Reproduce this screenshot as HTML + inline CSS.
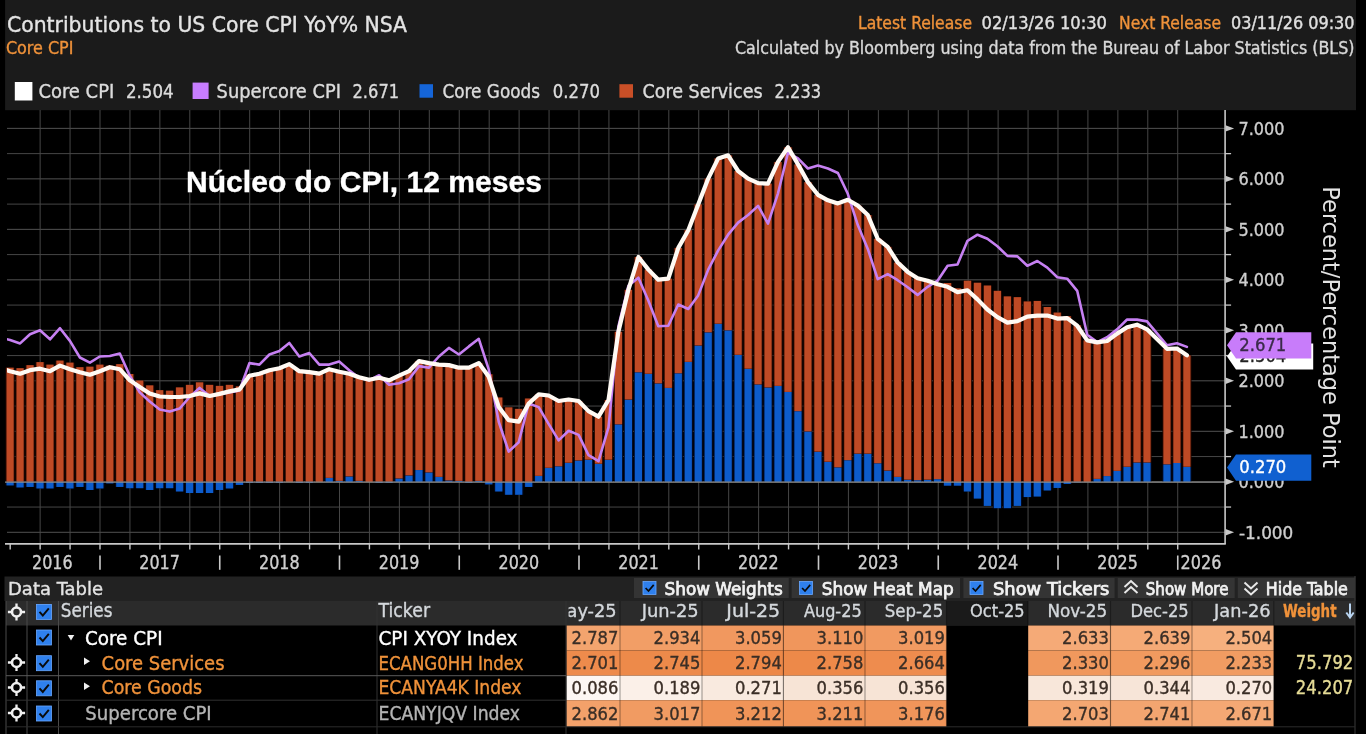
<!DOCTYPE html>
<html lang="en"><head><meta charset="utf-8"><title>Contributions to US Core CPI YoY% NSA</title>
<style>
html,body{margin:0;padding:0;background:#000;width:1366px;height:734px;overflow:hidden}
svg{display:block;position:absolute;left:0;top:0;font-family:"DejaVu Sans Condensed", "DejaVu Sans", "Liberation Sans", sans-serif}
</style></head><body>
<svg width="1366" height="734" viewBox="0 0 1366 734" font-family='"DejaVu Sans Condensed", "DejaVu Sans", "Liberation Sans", sans-serif'>
<g id="header" role="banner" aria-label="Chart title, release info and legend">
<rect x="5.10" y="0.00" width="1350.90" height="110.20" fill="#1b1b1b"/>
<text x="7" y="31.5" font-size="22" fill="#e4e4e4" stroke="#e4e4e4" stroke-width="0.35" textLength="400" lengthAdjust="spacingAndGlyphs">Contributions to US Core CPI YoY% NSA</text>
<text x="5.9" y="54" font-size="16.8" fill="#f0923a" stroke="#f0923a" stroke-width="0.35" textLength="67.5" lengthAdjust="spacingAndGlyphs">Core CPI</text>
<text x="858" y="28.6" font-size="17" fill="#f0923a" stroke="#f0923a" stroke-width="0.35" textLength="114" lengthAdjust="spacingAndGlyphs">Latest Release</text>
<text x="981.5" y="28.6" font-size="17" fill="#e0e0e0" stroke="#e0e0e0" stroke-width="0.35" textLength="125.5" lengthAdjust="spacingAndGlyphs">02/13/26 10:30</text>
<text x="1119" y="28.6" font-size="17" fill="#f0923a" stroke="#f0923a" stroke-width="0.35" textLength="102" lengthAdjust="spacingAndGlyphs">Next Release</text>
<text x="1231" y="28.6" font-size="17" fill="#e0e0e0" stroke="#e0e0e0" stroke-width="0.35" textLength="123.5" lengthAdjust="spacingAndGlyphs">03/11/26 09:30</text>
<text x="735" y="53.6" font-size="17" fill="#d8d8d8" stroke="#d8d8d8" stroke-width="0.35" textLength="619.5" lengthAdjust="spacingAndGlyphs">Calculated by Bloomberg using data from the Bureau of Labor Statistics (BLS)</text>
<rect x="14.80" y="82.00" width="17.60" height="18.50" fill="#ffffff"/>
<text x="38.4" y="98.3" font-size="19" fill="#dcdcdc" stroke="#dcdcdc" stroke-width="0.35" textLength="75.9" lengthAdjust="spacingAndGlyphs">Core CPI</text>
<text x="125.9" y="98.3" font-size="19" fill="#dcdcdc" stroke="#dcdcdc" stroke-width="0.35" textLength="47.8" lengthAdjust="spacingAndGlyphs">2.504</text>
<rect x="192.60" y="82.60" width="16.00" height="16.40" fill="#c77dff"/>
<text x="216.6" y="98.3" font-size="19" fill="#dcdcdc" stroke="#dcdcdc" stroke-width="0.35" textLength="124.3" lengthAdjust="spacingAndGlyphs">Supercore CPI</text>
<text x="352.5" y="98.3" font-size="19" fill="#dcdcdc" stroke="#dcdcdc" stroke-width="0.35" textLength="46.6" lengthAdjust="spacingAndGlyphs">2.671</text>
<rect x="419.50" y="84.20" width="13.50" height="13.50" fill="#1565d8"/>
<text x="442.5" y="98.3" font-size="19" fill="#dcdcdc" stroke="#dcdcdc" stroke-width="0.35" textLength="97.5" lengthAdjust="spacingAndGlyphs">Core Goods</text>
<text x="552.7" y="98.3" font-size="19" fill="#dcdcdc" stroke="#dcdcdc" stroke-width="0.35" textLength="47.2" lengthAdjust="spacingAndGlyphs">0.270</text>
<rect x="619.40" y="84.20" width="13.60" height="13.50" fill="#c94f27"/>
<text x="642.4" y="98.3" font-size="19" fill="#dcdcdc" stroke="#dcdcdc" stroke-width="0.35" textLength="120.2" lengthAdjust="spacingAndGlyphs">Core Services</text>
<text x="774.6" y="98.3" font-size="19" fill="#dcdcdc" stroke="#dcdcdc" stroke-width="0.35" textLength="46.6" lengthAdjust="spacingAndGlyphs">2.233</text>
</g>
<g id="chart" role="img" aria-label="Stacked bar and line chart of core CPI contributions">
<line x1="7.00" y1="532.29" x2="1225.10" y2="532.29" stroke="#525252" stroke-width="1"/>
<line x1="7.00" y1="507.05" x2="1225.10" y2="507.05" stroke="#464646" stroke-width="1"/>
<line x1="7.00" y1="481.80" x2="1225.10" y2="481.80" stroke="#525252" stroke-width="1"/>
<line x1="7.00" y1="456.56" x2="1225.10" y2="456.56" stroke="#464646" stroke-width="1"/>
<line x1="7.00" y1="431.31" x2="1225.10" y2="431.31" stroke="#525252" stroke-width="1"/>
<line x1="7.00" y1="406.06" x2="1225.10" y2="406.06" stroke="#464646" stroke-width="1"/>
<line x1="7.00" y1="380.82" x2="1225.10" y2="380.82" stroke="#525252" stroke-width="1"/>
<line x1="7.00" y1="355.57" x2="1225.10" y2="355.57" stroke="#464646" stroke-width="1"/>
<line x1="7.00" y1="330.33" x2="1225.10" y2="330.33" stroke="#525252" stroke-width="1"/>
<line x1="7.00" y1="305.09" x2="1225.10" y2="305.09" stroke="#464646" stroke-width="1"/>
<line x1="7.00" y1="279.84" x2="1225.10" y2="279.84" stroke="#525252" stroke-width="1"/>
<line x1="7.00" y1="254.59" x2="1225.10" y2="254.59" stroke="#464646" stroke-width="1"/>
<line x1="7.00" y1="229.35" x2="1225.10" y2="229.35" stroke="#525252" stroke-width="1"/>
<line x1="7.00" y1="204.11" x2="1225.10" y2="204.11" stroke="#464646" stroke-width="1"/>
<line x1="7.00" y1="178.86" x2="1225.10" y2="178.86" stroke="#525252" stroke-width="1"/>
<line x1="7.00" y1="153.62" x2="1225.10" y2="153.62" stroke="#464646" stroke-width="1"/>
<line x1="7.00" y1="128.37" x2="1225.10" y2="128.37" stroke="#525252" stroke-width="1"/>
<line x1="40.13" y1="110.00" x2="40.13" y2="543.90" stroke="#464646" stroke-width="1"/>
<line x1="70.06" y1="110.00" x2="70.06" y2="543.90" stroke="#464646" stroke-width="1"/>
<line x1="100.00" y1="110.00" x2="100.00" y2="543.90" stroke="#464646" stroke-width="1"/>
<line x1="129.94" y1="110.00" x2="129.94" y2="543.90" stroke="#464646" stroke-width="1"/>
<line x1="159.87" y1="110.00" x2="159.87" y2="543.90" stroke="#464646" stroke-width="1"/>
<line x1="189.81" y1="110.00" x2="189.81" y2="543.90" stroke="#464646" stroke-width="1"/>
<line x1="219.75" y1="110.00" x2="219.75" y2="543.90" stroke="#464646" stroke-width="1"/>
<line x1="249.69" y1="110.00" x2="249.69" y2="543.90" stroke="#464646" stroke-width="1"/>
<line x1="279.62" y1="110.00" x2="279.62" y2="543.90" stroke="#464646" stroke-width="1"/>
<line x1="309.56" y1="110.00" x2="309.56" y2="543.90" stroke="#464646" stroke-width="1"/>
<line x1="339.50" y1="110.00" x2="339.50" y2="543.90" stroke="#464646" stroke-width="1"/>
<line x1="369.43" y1="110.00" x2="369.43" y2="543.90" stroke="#464646" stroke-width="1"/>
<line x1="399.37" y1="110.00" x2="399.37" y2="543.90" stroke="#464646" stroke-width="1"/>
<line x1="429.31" y1="110.00" x2="429.31" y2="543.90" stroke="#464646" stroke-width="1"/>
<line x1="459.24" y1="110.00" x2="459.24" y2="543.90" stroke="#464646" stroke-width="1"/>
<line x1="489.18" y1="110.00" x2="489.18" y2="543.90" stroke="#464646" stroke-width="1"/>
<line x1="519.12" y1="110.00" x2="519.12" y2="543.90" stroke="#464646" stroke-width="1"/>
<line x1="549.05" y1="110.00" x2="549.05" y2="543.90" stroke="#464646" stroke-width="1"/>
<line x1="578.99" y1="110.00" x2="578.99" y2="543.90" stroke="#464646" stroke-width="1"/>
<line x1="608.93" y1="110.00" x2="608.93" y2="543.90" stroke="#464646" stroke-width="1"/>
<line x1="638.87" y1="110.00" x2="638.87" y2="543.90" stroke="#464646" stroke-width="1"/>
<line x1="668.80" y1="110.00" x2="668.80" y2="543.90" stroke="#464646" stroke-width="1"/>
<line x1="698.74" y1="110.00" x2="698.74" y2="543.90" stroke="#464646" stroke-width="1"/>
<line x1="728.68" y1="110.00" x2="728.68" y2="543.90" stroke="#464646" stroke-width="1"/>
<line x1="758.61" y1="110.00" x2="758.61" y2="543.90" stroke="#464646" stroke-width="1"/>
<line x1="788.55" y1="110.00" x2="788.55" y2="543.90" stroke="#464646" stroke-width="1"/>
<line x1="818.49" y1="110.00" x2="818.49" y2="543.90" stroke="#464646" stroke-width="1"/>
<line x1="848.42" y1="110.00" x2="848.42" y2="543.90" stroke="#464646" stroke-width="1"/>
<line x1="878.36" y1="110.00" x2="878.36" y2="543.90" stroke="#464646" stroke-width="1"/>
<line x1="908.30" y1="110.00" x2="908.30" y2="543.90" stroke="#464646" stroke-width="1"/>
<line x1="938.24" y1="110.00" x2="938.24" y2="543.90" stroke="#464646" stroke-width="1"/>
<line x1="968.17" y1="110.00" x2="968.17" y2="543.90" stroke="#464646" stroke-width="1"/>
<line x1="998.11" y1="110.00" x2="998.11" y2="543.90" stroke="#464646" stroke-width="1"/>
<line x1="1028.05" y1="110.00" x2="1028.05" y2="543.90" stroke="#464646" stroke-width="1"/>
<line x1="1057.98" y1="110.00" x2="1057.98" y2="543.90" stroke="#464646" stroke-width="1"/>
<line x1="1087.92" y1="110.00" x2="1087.92" y2="543.90" stroke="#464646" stroke-width="1"/>
<line x1="1117.86" y1="110.00" x2="1117.86" y2="543.90" stroke="#464646" stroke-width="1"/>
<line x1="1147.79" y1="110.00" x2="1147.79" y2="543.90" stroke="#464646" stroke-width="1"/>
<line x1="1177.73" y1="110.00" x2="1177.73" y2="543.90" stroke="#464646" stroke-width="1"/>
<rect x="5.49" y="367.66" width="9.20" height="114.24" fill="#240700"/>
<rect x="6.49" y="367.66" width="7.20" height="114.24" fill="#bf4a25"/>
<rect x="5.49" y="481.90" width="9.20" height="3.54" fill="#020a24"/>
<rect x="6.49" y="481.90" width="7.20" height="3.54" fill="#0d5ccb"/>
<rect x="15.47" y="368.16" width="9.20" height="113.74" fill="#240700"/>
<rect x="16.47" y="368.16" width="7.20" height="113.74" fill="#bf4a25"/>
<rect x="15.47" y="481.90" width="9.20" height="5.56" fill="#020a24"/>
<rect x="16.47" y="481.90" width="7.20" height="5.56" fill="#0d5ccb"/>
<rect x="25.44" y="365.13" width="9.20" height="116.77" fill="#240700"/>
<rect x="26.44" y="365.13" width="7.20" height="116.77" fill="#bf4a25"/>
<rect x="25.44" y="481.90" width="9.20" height="5.06" fill="#020a24"/>
<rect x="26.44" y="481.90" width="7.20" height="5.06" fill="#0d5ccb"/>
<rect x="35.41" y="362.10" width="9.20" height="119.80" fill="#240700"/>
<rect x="36.41" y="362.10" width="7.20" height="119.80" fill="#bf4a25"/>
<rect x="35.41" y="481.90" width="9.20" height="6.57" fill="#020a24"/>
<rect x="36.41" y="481.90" width="7.20" height="6.57" fill="#0d5ccb"/>
<rect x="45.38" y="364.62" width="9.20" height="117.28" fill="#240700"/>
<rect x="46.38" y="364.62" width="7.20" height="117.28" fill="#bf4a25"/>
<rect x="45.38" y="481.90" width="9.20" height="6.57" fill="#020a24"/>
<rect x="46.38" y="481.90" width="7.20" height="6.57" fill="#0d5ccb"/>
<rect x="55.36" y="360.58" width="9.20" height="121.32" fill="#240700"/>
<rect x="56.36" y="360.58" width="7.20" height="121.32" fill="#bf4a25"/>
<rect x="55.36" y="481.90" width="9.20" height="5.06" fill="#020a24"/>
<rect x="56.36" y="481.90" width="7.20" height="5.06" fill="#0d5ccb"/>
<rect x="65.33" y="362.60" width="9.20" height="119.30" fill="#240700"/>
<rect x="66.33" y="362.60" width="7.20" height="119.30" fill="#bf4a25"/>
<rect x="65.33" y="481.90" width="9.20" height="6.57" fill="#020a24"/>
<rect x="66.33" y="481.90" width="7.20" height="6.57" fill="#0d5ccb"/>
<rect x="75.30" y="367.15" width="9.20" height="114.75" fill="#240700"/>
<rect x="76.30" y="367.15" width="7.20" height="114.75" fill="#bf4a25"/>
<rect x="75.30" y="481.90" width="9.20" height="5.06" fill="#020a24"/>
<rect x="76.30" y="481.90" width="7.20" height="5.06" fill="#0d5ccb"/>
<rect x="85.28" y="366.65" width="9.20" height="115.25" fill="#240700"/>
<rect x="86.28" y="366.65" width="7.20" height="115.25" fill="#bf4a25"/>
<rect x="85.28" y="481.90" width="9.20" height="8.09" fill="#020a24"/>
<rect x="86.28" y="481.90" width="7.20" height="8.09" fill="#0d5ccb"/>
<rect x="95.25" y="364.62" width="9.20" height="117.28" fill="#240700"/>
<rect x="96.25" y="364.62" width="7.20" height="117.28" fill="#bf4a25"/>
<rect x="95.25" y="481.90" width="9.20" height="6.57" fill="#020a24"/>
<rect x="96.25" y="481.90" width="7.20" height="6.57" fill="#0d5ccb"/>
<rect x="105.22" y="365.63" width="9.20" height="116.26" fill="#240700"/>
<rect x="106.22" y="365.63" width="7.20" height="116.26" fill="#bf4a25"/>
<rect x="105.22" y="481.90" width="9.20" height="1.52" fill="#020a24"/>
<rect x="106.22" y="481.90" width="7.20" height="1.52" fill="#0d5ccb"/>
<rect x="115.20" y="364.12" width="9.20" height="117.78" fill="#240700"/>
<rect x="116.20" y="364.12" width="7.20" height="117.78" fill="#bf4a25"/>
<rect x="115.20" y="481.90" width="9.20" height="5.06" fill="#020a24"/>
<rect x="116.20" y="481.90" width="7.20" height="5.06" fill="#0d5ccb"/>
<rect x="125.17" y="373.98" width="9.20" height="107.92" fill="#240700"/>
<rect x="126.17" y="373.98" width="7.20" height="107.92" fill="#bf4a25"/>
<rect x="125.17" y="481.90" width="9.20" height="6.32" fill="#020a24"/>
<rect x="126.17" y="481.90" width="7.20" height="6.32" fill="#0d5ccb"/>
<rect x="135.14" y="380.55" width="9.20" height="101.35" fill="#240700"/>
<rect x="136.14" y="380.55" width="7.20" height="101.35" fill="#bf4a25"/>
<rect x="135.14" y="481.90" width="9.20" height="6.32" fill="#020a24"/>
<rect x="136.14" y="481.90" width="7.20" height="6.32" fill="#0d5ccb"/>
<rect x="145.12" y="385.35" width="9.20" height="96.55" fill="#240700"/>
<rect x="146.12" y="385.35" width="7.20" height="96.55" fill="#bf4a25"/>
<rect x="145.12" y="481.90" width="9.20" height="8.09" fill="#020a24"/>
<rect x="146.12" y="481.90" width="7.20" height="8.09" fill="#0d5ccb"/>
<rect x="155.09" y="390.15" width="9.20" height="91.75" fill="#240700"/>
<rect x="156.09" y="390.15" width="7.20" height="91.75" fill="#bf4a25"/>
<rect x="155.09" y="481.90" width="9.20" height="6.32" fill="#020a24"/>
<rect x="156.09" y="481.90" width="7.20" height="6.32" fill="#0d5ccb"/>
<rect x="165.06" y="390.66" width="9.20" height="91.24" fill="#240700"/>
<rect x="166.06" y="390.66" width="7.20" height="91.24" fill="#bf4a25"/>
<rect x="165.06" y="481.90" width="9.20" height="6.32" fill="#020a24"/>
<rect x="166.06" y="481.90" width="7.20" height="6.32" fill="#0d5ccb"/>
<rect x="175.03" y="387.37" width="9.20" height="94.53" fill="#240700"/>
<rect x="176.03" y="387.37" width="7.20" height="94.53" fill="#bf4a25"/>
<rect x="175.03" y="481.90" width="9.20" height="9.60" fill="#020a24"/>
<rect x="176.03" y="481.90" width="7.20" height="9.60" fill="#0d5ccb"/>
<rect x="185.01" y="384.84" width="9.20" height="97.06" fill="#240700"/>
<rect x="186.01" y="384.84" width="7.20" height="97.06" fill="#bf4a25"/>
<rect x="185.01" y="481.90" width="9.20" height="11.12" fill="#020a24"/>
<rect x="186.01" y="481.90" width="7.20" height="11.12" fill="#0d5ccb"/>
<rect x="194.98" y="382.32" width="9.20" height="99.58" fill="#240700"/>
<rect x="195.98" y="382.32" width="7.20" height="99.58" fill="#bf4a25"/>
<rect x="194.98" y="481.90" width="9.20" height="11.12" fill="#020a24"/>
<rect x="195.98" y="481.90" width="7.20" height="11.12" fill="#0d5ccb"/>
<rect x="204.95" y="384.84" width="9.20" height="97.06" fill="#240700"/>
<rect x="205.95" y="384.84" width="7.20" height="97.06" fill="#bf4a25"/>
<rect x="204.95" y="481.90" width="9.20" height="11.12" fill="#020a24"/>
<rect x="205.95" y="481.90" width="7.20" height="11.12" fill="#0d5ccb"/>
<rect x="214.93" y="385.86" width="9.20" height="96.04" fill="#240700"/>
<rect x="215.93" y="385.86" width="7.20" height="96.04" fill="#bf4a25"/>
<rect x="214.93" y="481.90" width="9.20" height="8.09" fill="#020a24"/>
<rect x="215.93" y="481.90" width="7.20" height="8.09" fill="#0d5ccb"/>
<rect x="224.90" y="384.84" width="9.20" height="97.06" fill="#240700"/>
<rect x="225.90" y="384.84" width="7.20" height="97.06" fill="#bf4a25"/>
<rect x="224.90" y="481.90" width="9.20" height="6.57" fill="#020a24"/>
<rect x="225.90" y="481.90" width="7.20" height="6.57" fill="#0d5ccb"/>
<rect x="234.87" y="386.36" width="9.20" height="95.54" fill="#240700"/>
<rect x="235.87" y="386.36" width="7.20" height="95.54" fill="#bf4a25"/>
<rect x="234.87" y="481.90" width="9.20" height="3.03" fill="#020a24"/>
<rect x="235.87" y="481.90" width="7.20" height="3.03" fill="#0d5ccb"/>
<rect x="244.84" y="374.73" width="9.20" height="107.17" fill="#240700"/>
<rect x="245.84" y="374.73" width="7.20" height="107.17" fill="#bf4a25"/>
<rect x="244.84" y="481.90" width="9.20" height="1.01" fill="#020a24"/>
<rect x="245.84" y="481.90" width="7.20" height="1.01" fill="#0d5ccb"/>
<rect x="254.82" y="372.71" width="9.20" height="109.19" fill="#240700"/>
<rect x="255.82" y="372.71" width="7.20" height="109.19" fill="#bf4a25"/>
<rect x="254.82" y="481.90" width="9.20" height="1.01" fill="#020a24"/>
<rect x="255.82" y="481.90" width="7.20" height="1.01" fill="#0d5ccb"/>
<rect x="264.79" y="369.17" width="9.20" height="112.73" fill="#240700"/>
<rect x="265.79" y="369.17" width="7.20" height="112.73" fill="#bf4a25"/>
<rect x="264.79" y="481.90" width="9.20" height="1.01" fill="#020a24"/>
<rect x="265.79" y="481.90" width="7.20" height="1.01" fill="#0d5ccb"/>
<rect x="274.76" y="367.15" width="9.20" height="114.75" fill="#240700"/>
<rect x="275.76" y="367.15" width="7.20" height="114.75" fill="#bf4a25"/>
<rect x="274.76" y="481.90" width="9.20" height="1.01" fill="#020a24"/>
<rect x="275.76" y="481.90" width="7.20" height="1.01" fill="#0d5ccb"/>
<rect x="284.74" y="364.12" width="9.20" height="117.78" fill="#240700"/>
<rect x="285.74" y="364.12" width="7.20" height="117.78" fill="#bf4a25"/>
<rect x="294.71" y="370.18" width="9.20" height="111.72" fill="#240700"/>
<rect x="295.71" y="370.18" width="7.20" height="111.72" fill="#bf4a25"/>
<rect x="294.71" y="481.90" width="9.20" height="1.01" fill="#020a24"/>
<rect x="295.71" y="481.90" width="7.20" height="1.01" fill="#0d5ccb"/>
<rect x="304.68" y="371.20" width="9.20" height="110.70" fill="#240700"/>
<rect x="305.68" y="371.20" width="7.20" height="110.70" fill="#bf4a25"/>
<rect x="304.68" y="481.90" width="9.20" height="1.01" fill="#020a24"/>
<rect x="305.68" y="481.90" width="7.20" height="1.01" fill="#0d5ccb"/>
<rect x="314.66" y="373.72" width="9.20" height="108.18" fill="#240700"/>
<rect x="315.66" y="373.72" width="7.20" height="108.18" fill="#bf4a25"/>
<rect x="324.63" y="477.86" width="9.20" height="4.04" fill="#020a24"/>
<rect x="325.63" y="477.86" width="7.20" height="4.04" fill="#0d5ccb"/>
<rect x="324.63" y="369.17" width="9.20" height="108.68" fill="#240700"/>
<rect x="325.63" y="369.17" width="7.20" height="108.68" fill="#bf4a25"/>
<rect x="334.60" y="480.89" width="9.20" height="1.01" fill="#020a24"/>
<rect x="335.60" y="480.89" width="7.20" height="1.01" fill="#0d5ccb"/>
<rect x="334.60" y="371.70" width="9.20" height="109.19" fill="#240700"/>
<rect x="335.60" y="371.70" width="7.20" height="109.19" fill="#bf4a25"/>
<rect x="344.57" y="476.34" width="9.20" height="5.56" fill="#020a24"/>
<rect x="345.57" y="476.34" width="7.20" height="5.56" fill="#0d5ccb"/>
<rect x="344.57" y="373.72" width="9.20" height="102.62" fill="#240700"/>
<rect x="345.57" y="373.72" width="7.20" height="102.62" fill="#bf4a25"/>
<rect x="354.55" y="480.89" width="9.20" height="1.01" fill="#020a24"/>
<rect x="355.55" y="480.89" width="7.20" height="1.01" fill="#0d5ccb"/>
<rect x="354.55" y="377.26" width="9.20" height="103.63" fill="#240700"/>
<rect x="355.55" y="377.26" width="7.20" height="103.63" fill="#bf4a25"/>
<rect x="364.52" y="379.79" width="9.20" height="102.11" fill="#240700"/>
<rect x="365.52" y="379.79" width="7.20" height="102.11" fill="#bf4a25"/>
<rect x="374.49" y="376.76" width="9.20" height="105.14" fill="#240700"/>
<rect x="375.49" y="376.76" width="7.20" height="105.14" fill="#bf4a25"/>
<rect x="374.49" y="481.90" width="9.20" height="1.01" fill="#020a24"/>
<rect x="375.49" y="481.90" width="7.20" height="1.01" fill="#0d5ccb"/>
<rect x="384.47" y="379.28" width="9.20" height="102.62" fill="#240700"/>
<rect x="385.47" y="379.28" width="7.20" height="102.62" fill="#bf4a25"/>
<rect x="384.47" y="481.90" width="9.20" height="1.01" fill="#020a24"/>
<rect x="385.47" y="481.90" width="7.20" height="1.01" fill="#0d5ccb"/>
<rect x="394.44" y="478.36" width="9.20" height="3.54" fill="#020a24"/>
<rect x="395.44" y="478.36" width="7.20" height="3.54" fill="#0d5ccb"/>
<rect x="394.44" y="375.75" width="9.20" height="102.62" fill="#240700"/>
<rect x="395.44" y="375.75" width="7.20" height="102.62" fill="#bf4a25"/>
<rect x="404.41" y="475.33" width="9.20" height="6.57" fill="#020a24"/>
<rect x="405.41" y="475.33" width="7.20" height="6.57" fill="#0d5ccb"/>
<rect x="404.41" y="371.20" width="9.20" height="104.13" fill="#240700"/>
<rect x="405.41" y="371.20" width="7.20" height="104.13" fill="#bf4a25"/>
<rect x="414.39" y="470.02" width="9.20" height="11.88" fill="#020a24"/>
<rect x="415.39" y="470.02" width="7.20" height="11.88" fill="#0d5ccb"/>
<rect x="414.39" y="361.09" width="9.20" height="108.94" fill="#240700"/>
<rect x="415.39" y="361.09" width="7.20" height="108.94" fill="#bf4a25"/>
<rect x="424.36" y="472.30" width="9.20" height="9.60" fill="#020a24"/>
<rect x="425.36" y="472.30" width="7.20" height="9.60" fill="#0d5ccb"/>
<rect x="424.36" y="363.11" width="9.20" height="109.19" fill="#240700"/>
<rect x="425.36" y="363.11" width="7.20" height="109.19" fill="#bf4a25"/>
<rect x="434.33" y="476.84" width="9.20" height="5.06" fill="#020a24"/>
<rect x="435.33" y="476.84" width="7.20" height="5.06" fill="#0d5ccb"/>
<rect x="434.33" y="364.62" width="9.20" height="112.22" fill="#240700"/>
<rect x="435.33" y="364.62" width="7.20" height="112.22" fill="#bf4a25"/>
<rect x="444.30" y="480.38" width="9.20" height="1.52" fill="#020a24"/>
<rect x="445.30" y="480.38" width="7.20" height="1.52" fill="#0d5ccb"/>
<rect x="444.30" y="365.13" width="9.20" height="115.25" fill="#240700"/>
<rect x="445.30" y="365.13" width="7.20" height="115.25" fill="#bf4a25"/>
<rect x="454.28" y="480.89" width="9.20" height="1.01" fill="#020a24"/>
<rect x="455.28" y="480.89" width="7.20" height="1.01" fill="#0d5ccb"/>
<rect x="454.28" y="367.66" width="9.20" height="113.23" fill="#240700"/>
<rect x="455.28" y="367.66" width="7.20" height="113.23" fill="#bf4a25"/>
<rect x="464.25" y="366.65" width="9.20" height="115.25" fill="#240700"/>
<rect x="465.25" y="366.65" width="7.20" height="115.25" fill="#bf4a25"/>
<rect x="464.25" y="481.90" width="9.20" height="1.01" fill="#020a24"/>
<rect x="465.25" y="481.90" width="7.20" height="1.01" fill="#0d5ccb"/>
<rect x="474.22" y="480.89" width="9.20" height="1.01" fill="#020a24"/>
<rect x="475.22" y="480.89" width="7.20" height="1.01" fill="#0d5ccb"/>
<rect x="474.22" y="363.11" width="9.20" height="117.78" fill="#240700"/>
<rect x="475.22" y="363.11" width="7.20" height="117.78" fill="#bf4a25"/>
<rect x="484.20" y="374.23" width="9.20" height="107.67" fill="#240700"/>
<rect x="485.20" y="374.23" width="7.20" height="107.67" fill="#bf4a25"/>
<rect x="484.20" y="481.90" width="9.20" height="2.53" fill="#020a24"/>
<rect x="485.20" y="481.90" width="7.20" height="2.53" fill="#0d5ccb"/>
<rect x="494.17" y="397.48" width="9.20" height="84.42" fill="#240700"/>
<rect x="495.17" y="397.48" width="7.20" height="84.42" fill="#bf4a25"/>
<rect x="494.17" y="481.90" width="9.20" height="9.60" fill="#020a24"/>
<rect x="495.17" y="481.90" width="7.20" height="9.60" fill="#0d5ccb"/>
<rect x="504.14" y="407.34" width="9.20" height="74.56" fill="#240700"/>
<rect x="505.14" y="407.34" width="7.20" height="74.56" fill="#bf4a25"/>
<rect x="504.14" y="481.90" width="9.20" height="12.89" fill="#020a24"/>
<rect x="505.14" y="481.90" width="7.20" height="12.89" fill="#0d5ccb"/>
<rect x="514.12" y="408.86" width="9.20" height="73.04" fill="#240700"/>
<rect x="515.12" y="408.86" width="7.20" height="73.04" fill="#bf4a25"/>
<rect x="514.12" y="481.90" width="9.20" height="12.89" fill="#020a24"/>
<rect x="515.12" y="481.90" width="7.20" height="12.89" fill="#0d5ccb"/>
<rect x="524.09" y="398.49" width="9.20" height="83.41" fill="#240700"/>
<rect x="525.09" y="398.49" width="7.20" height="83.41" fill="#bf4a25"/>
<rect x="524.09" y="481.90" width="9.20" height="5.06" fill="#020a24"/>
<rect x="525.09" y="481.90" width="7.20" height="5.06" fill="#0d5ccb"/>
<rect x="534.06" y="475.83" width="9.20" height="6.07" fill="#020a24"/>
<rect x="535.06" y="475.83" width="7.20" height="6.07" fill="#0d5ccb"/>
<rect x="534.06" y="394.45" width="9.20" height="81.39" fill="#240700"/>
<rect x="535.06" y="394.45" width="7.20" height="81.39" fill="#bf4a25"/>
<rect x="544.03" y="467.75" width="9.20" height="14.15" fill="#020a24"/>
<rect x="545.03" y="467.75" width="7.20" height="14.15" fill="#0d5ccb"/>
<rect x="544.03" y="395.46" width="9.20" height="72.29" fill="#240700"/>
<rect x="545.03" y="395.46" width="7.20" height="72.29" fill="#bf4a25"/>
<rect x="554.01" y="466.23" width="9.20" height="15.67" fill="#020a24"/>
<rect x="555.01" y="466.23" width="7.20" height="15.67" fill="#0d5ccb"/>
<rect x="554.01" y="401.02" width="9.20" height="65.21" fill="#240700"/>
<rect x="555.01" y="401.02" width="7.20" height="65.21" fill="#bf4a25"/>
<rect x="563.98" y="462.69" width="9.20" height="19.21" fill="#020a24"/>
<rect x="564.98" y="462.69" width="7.20" height="19.21" fill="#0d5ccb"/>
<rect x="563.98" y="399.50" width="9.20" height="63.19" fill="#240700"/>
<rect x="564.98" y="399.50" width="7.20" height="63.19" fill="#bf4a25"/>
<rect x="573.95" y="460.42" width="9.20" height="21.48" fill="#020a24"/>
<rect x="574.95" y="460.42" width="7.20" height="21.48" fill="#0d5ccb"/>
<rect x="573.95" y="401.02" width="9.20" height="59.40" fill="#240700"/>
<rect x="574.95" y="401.02" width="7.20" height="59.40" fill="#bf4a25"/>
<rect x="583.93" y="459.66" width="9.20" height="22.24" fill="#020a24"/>
<rect x="584.93" y="459.66" width="7.20" height="22.24" fill="#0d5ccb"/>
<rect x="583.93" y="411.13" width="9.20" height="48.53" fill="#240700"/>
<rect x="584.93" y="411.13" width="7.20" height="48.53" fill="#bf4a25"/>
<rect x="593.90" y="463.70" width="9.20" height="18.20" fill="#020a24"/>
<rect x="594.90" y="463.70" width="7.20" height="18.20" fill="#0d5ccb"/>
<rect x="593.90" y="416.69" width="9.20" height="47.01" fill="#240700"/>
<rect x="594.90" y="416.69" width="7.20" height="47.01" fill="#bf4a25"/>
<rect x="603.87" y="459.66" width="9.20" height="22.24" fill="#020a24"/>
<rect x="604.87" y="459.66" width="7.20" height="22.24" fill="#0d5ccb"/>
<rect x="603.87" y="400.01" width="9.20" height="59.65" fill="#240700"/>
<rect x="604.87" y="400.01" width="7.20" height="59.65" fill="#bf4a25"/>
<rect x="613.85" y="424.27" width="9.20" height="57.63" fill="#020a24"/>
<rect x="614.85" y="424.27" width="7.20" height="57.63" fill="#0d5ccb"/>
<rect x="613.85" y="331.77" width="9.20" height="92.51" fill="#240700"/>
<rect x="614.85" y="331.77" width="7.20" height="92.51" fill="#bf4a25"/>
<rect x="623.82" y="399.50" width="9.20" height="82.40" fill="#020a24"/>
<rect x="624.82" y="399.50" width="7.20" height="82.40" fill="#0d5ccb"/>
<rect x="623.82" y="289.81" width="9.20" height="109.69" fill="#240700"/>
<rect x="624.82" y="289.81" width="7.20" height="109.69" fill="#bf4a25"/>
<rect x="633.79" y="372.21" width="9.20" height="109.69" fill="#020a24"/>
<rect x="634.79" y="372.21" width="7.20" height="109.69" fill="#0d5ccb"/>
<rect x="633.79" y="256.95" width="9.20" height="115.25" fill="#240700"/>
<rect x="634.79" y="256.95" width="7.20" height="115.25" fill="#bf4a25"/>
<rect x="643.76" y="373.72" width="9.20" height="108.18" fill="#020a24"/>
<rect x="644.76" y="373.72" width="7.20" height="108.18" fill="#0d5ccb"/>
<rect x="643.76" y="269.59" width="9.20" height="104.13" fill="#240700"/>
<rect x="644.76" y="269.59" width="7.20" height="104.13" fill="#bf4a25"/>
<rect x="653.74" y="383.33" width="9.20" height="98.57" fill="#020a24"/>
<rect x="654.74" y="383.33" width="7.20" height="98.57" fill="#0d5ccb"/>
<rect x="653.74" y="279.70" width="9.20" height="103.63" fill="#240700"/>
<rect x="654.74" y="279.70" width="7.20" height="103.63" fill="#bf4a25"/>
<rect x="663.71" y="387.88" width="9.20" height="94.02" fill="#020a24"/>
<rect x="664.71" y="387.88" width="7.20" height="94.02" fill="#0d5ccb"/>
<rect x="663.71" y="278.69" width="9.20" height="109.19" fill="#240700"/>
<rect x="664.71" y="278.69" width="7.20" height="109.19" fill="#bf4a25"/>
<rect x="673.68" y="373.22" width="9.20" height="108.68" fill="#020a24"/>
<rect x="674.68" y="373.22" width="7.20" height="108.68" fill="#0d5ccb"/>
<rect x="673.68" y="247.85" width="9.20" height="125.36" fill="#240700"/>
<rect x="674.68" y="247.85" width="7.20" height="125.36" fill="#bf4a25"/>
<rect x="683.66" y="361.84" width="9.20" height="120.06" fill="#020a24"/>
<rect x="684.66" y="361.84" width="7.20" height="120.06" fill="#0d5ccb"/>
<rect x="683.66" y="230.16" width="9.20" height="131.68" fill="#240700"/>
<rect x="684.66" y="230.16" width="7.20" height="131.68" fill="#bf4a25"/>
<rect x="693.63" y="345.41" width="9.20" height="136.49" fill="#020a24"/>
<rect x="694.63" y="345.41" width="7.20" height="136.49" fill="#0d5ccb"/>
<rect x="693.63" y="204.38" width="9.20" height="141.03" fill="#240700"/>
<rect x="694.63" y="204.38" width="7.20" height="141.03" fill="#bf4a25"/>
<rect x="703.60" y="332.27" width="9.20" height="149.63" fill="#020a24"/>
<rect x="704.60" y="332.27" width="7.20" height="149.63" fill="#0d5ccb"/>
<rect x="703.60" y="178.60" width="9.20" height="153.67" fill="#240700"/>
<rect x="704.60" y="178.60" width="7.20" height="153.67" fill="#bf4a25"/>
<rect x="713.58" y="323.68" width="9.20" height="158.22" fill="#020a24"/>
<rect x="714.58" y="323.68" width="7.20" height="158.22" fill="#0d5ccb"/>
<rect x="713.58" y="158.38" width="9.20" height="165.30" fill="#240700"/>
<rect x="714.58" y="158.38" width="7.20" height="165.30" fill="#bf4a25"/>
<rect x="723.55" y="330.25" width="9.20" height="151.65" fill="#020a24"/>
<rect x="724.55" y="330.25" width="7.20" height="151.65" fill="#0d5ccb"/>
<rect x="723.55" y="155.35" width="9.20" height="174.90" fill="#240700"/>
<rect x="724.55" y="155.35" width="7.20" height="174.90" fill="#bf4a25"/>
<rect x="733.52" y="354.77" width="9.20" height="127.13" fill="#020a24"/>
<rect x="734.52" y="354.77" width="7.20" height="127.13" fill="#0d5ccb"/>
<rect x="733.52" y="171.02" width="9.20" height="183.75" fill="#240700"/>
<rect x="734.52" y="171.02" width="7.20" height="183.75" fill="#bf4a25"/>
<rect x="743.50" y="368.67" width="9.20" height="113.23" fill="#020a24"/>
<rect x="744.50" y="368.67" width="7.20" height="113.23" fill="#0d5ccb"/>
<rect x="743.50" y="178.60" width="9.20" height="190.07" fill="#240700"/>
<rect x="744.50" y="178.60" width="7.20" height="190.07" fill="#bf4a25"/>
<rect x="753.47" y="384.34" width="9.20" height="97.56" fill="#020a24"/>
<rect x="754.47" y="384.34" width="7.20" height="97.56" fill="#0d5ccb"/>
<rect x="753.47" y="183.15" width="9.20" height="201.19" fill="#240700"/>
<rect x="754.47" y="183.15" width="7.20" height="201.19" fill="#bf4a25"/>
<rect x="763.44" y="387.37" width="9.20" height="94.53" fill="#020a24"/>
<rect x="764.44" y="387.37" width="7.20" height="94.53" fill="#0d5ccb"/>
<rect x="763.44" y="183.65" width="9.20" height="203.72" fill="#240700"/>
<rect x="764.44" y="183.65" width="7.20" height="203.72" fill="#bf4a25"/>
<rect x="773.41" y="385.86" width="9.20" height="96.04" fill="#020a24"/>
<rect x="774.41" y="385.86" width="7.20" height="96.04" fill="#0d5ccb"/>
<rect x="773.41" y="161.92" width="9.20" height="223.94" fill="#240700"/>
<rect x="774.41" y="161.92" width="7.20" height="223.94" fill="#bf4a25"/>
<rect x="783.39" y="391.92" width="9.20" height="89.98" fill="#020a24"/>
<rect x="784.39" y="391.92" width="7.20" height="89.98" fill="#0d5ccb"/>
<rect x="783.39" y="147.26" width="9.20" height="244.66" fill="#240700"/>
<rect x="784.39" y="147.26" width="7.20" height="244.66" fill="#bf4a25"/>
<rect x="793.36" y="411.13" width="9.20" height="70.77" fill="#020a24"/>
<rect x="794.36" y="411.13" width="7.20" height="70.77" fill="#0d5ccb"/>
<rect x="793.36" y="164.45" width="9.20" height="246.68" fill="#240700"/>
<rect x="794.36" y="164.45" width="7.20" height="246.68" fill="#bf4a25"/>
<rect x="803.33" y="431.35" width="9.20" height="50.55" fill="#020a24"/>
<rect x="804.33" y="431.35" width="7.20" height="50.55" fill="#0d5ccb"/>
<rect x="803.33" y="182.14" width="9.20" height="249.21" fill="#240700"/>
<rect x="804.33" y="182.14" width="7.20" height="249.21" fill="#bf4a25"/>
<rect x="813.31" y="451.57" width="9.20" height="30.33" fill="#020a24"/>
<rect x="814.31" y="451.57" width="7.20" height="30.33" fill="#0d5ccb"/>
<rect x="813.31" y="194.78" width="9.20" height="256.79" fill="#240700"/>
<rect x="814.31" y="194.78" width="7.20" height="256.79" fill="#bf4a25"/>
<rect x="823.28" y="461.68" width="9.20" height="20.22" fill="#020a24"/>
<rect x="824.28" y="461.68" width="7.20" height="20.22" fill="#0d5ccb"/>
<rect x="823.28" y="200.34" width="9.20" height="261.34" fill="#240700"/>
<rect x="824.28" y="200.34" width="7.20" height="261.34" fill="#bf4a25"/>
<rect x="833.25" y="467.24" width="9.20" height="14.66" fill="#020a24"/>
<rect x="834.25" y="467.24" width="7.20" height="14.66" fill="#0d5ccb"/>
<rect x="833.25" y="203.37" width="9.20" height="263.87" fill="#240700"/>
<rect x="834.25" y="203.37" width="7.20" height="263.87" fill="#bf4a25"/>
<rect x="843.23" y="460.16" width="9.20" height="21.74" fill="#020a24"/>
<rect x="844.23" y="460.16" width="7.20" height="21.74" fill="#0d5ccb"/>
<rect x="843.23" y="199.83" width="9.20" height="260.33" fill="#240700"/>
<rect x="844.23" y="199.83" width="7.20" height="260.33" fill="#bf4a25"/>
<rect x="853.20" y="453.59" width="9.20" height="28.31" fill="#020a24"/>
<rect x="854.20" y="453.59" width="7.20" height="28.31" fill="#0d5ccb"/>
<rect x="853.20" y="205.64" width="9.20" height="247.95" fill="#240700"/>
<rect x="854.20" y="205.64" width="7.20" height="247.95" fill="#bf4a25"/>
<rect x="863.17" y="453.59" width="9.20" height="28.31" fill="#020a24"/>
<rect x="864.17" y="453.59" width="7.20" height="28.31" fill="#0d5ccb"/>
<rect x="863.17" y="215.00" width="9.20" height="238.60" fill="#240700"/>
<rect x="864.17" y="215.00" width="7.20" height="238.60" fill="#bf4a25"/>
<rect x="873.14" y="463.20" width="9.20" height="18.70" fill="#020a24"/>
<rect x="874.14" y="463.20" width="7.20" height="18.70" fill="#0d5ccb"/>
<rect x="873.14" y="238.75" width="9.20" height="224.44" fill="#240700"/>
<rect x="874.14" y="238.75" width="7.20" height="224.44" fill="#bf4a25"/>
<rect x="883.12" y="470.53" width="9.20" height="11.37" fill="#020a24"/>
<rect x="884.12" y="470.53" width="7.20" height="11.37" fill="#0d5ccb"/>
<rect x="883.12" y="246.84" width="9.20" height="223.68" fill="#240700"/>
<rect x="884.12" y="246.84" width="7.20" height="223.68" fill="#bf4a25"/>
<rect x="893.09" y="476.84" width="9.20" height="5.06" fill="#020a24"/>
<rect x="894.09" y="476.84" width="7.20" height="5.06" fill="#0d5ccb"/>
<rect x="893.09" y="262.51" width="9.20" height="214.33" fill="#240700"/>
<rect x="894.09" y="262.51" width="7.20" height="214.33" fill="#bf4a25"/>
<rect x="903.06" y="479.63" width="9.20" height="2.27" fill="#020a24"/>
<rect x="904.06" y="479.63" width="7.20" height="2.27" fill="#0d5ccb"/>
<rect x="903.06" y="271.86" width="9.20" height="207.76" fill="#240700"/>
<rect x="904.06" y="271.86" width="7.20" height="207.76" fill="#bf4a25"/>
<rect x="913.04" y="480.13" width="9.20" height="1.77" fill="#020a24"/>
<rect x="914.04" y="480.13" width="7.20" height="1.77" fill="#0d5ccb"/>
<rect x="913.04" y="278.18" width="9.20" height="201.95" fill="#240700"/>
<rect x="914.04" y="278.18" width="7.20" height="201.95" fill="#bf4a25"/>
<rect x="923.01" y="479.63" width="9.20" height="2.27" fill="#020a24"/>
<rect x="924.01" y="479.63" width="7.20" height="2.27" fill="#0d5ccb"/>
<rect x="923.01" y="280.71" width="9.20" height="198.91" fill="#240700"/>
<rect x="924.01" y="280.71" width="7.20" height="198.91" fill="#bf4a25"/>
<rect x="932.98" y="479.12" width="9.20" height="2.78" fill="#020a24"/>
<rect x="933.98" y="479.12" width="7.20" height="2.78" fill="#0d5ccb"/>
<rect x="932.98" y="284.25" width="9.20" height="194.87" fill="#240700"/>
<rect x="933.98" y="284.25" width="7.20" height="194.87" fill="#bf4a25"/>
<rect x="942.96" y="282.99" width="9.20" height="198.91" fill="#240700"/>
<rect x="943.96" y="282.99" width="7.20" height="198.91" fill="#bf4a25"/>
<rect x="942.96" y="481.90" width="9.20" height="3.79" fill="#020a24"/>
<rect x="943.96" y="481.90" width="7.20" height="3.79" fill="#0d5ccb"/>
<rect x="952.93" y="288.29" width="9.20" height="193.61" fill="#240700"/>
<rect x="953.93" y="288.29" width="7.20" height="193.61" fill="#bf4a25"/>
<rect x="952.93" y="481.90" width="9.20" height="3.79" fill="#020a24"/>
<rect x="953.93" y="481.90" width="7.20" height="3.79" fill="#0d5ccb"/>
<rect x="962.90" y="280.71" width="9.20" height="201.19" fill="#240700"/>
<rect x="963.90" y="280.71" width="7.20" height="201.19" fill="#bf4a25"/>
<rect x="962.90" y="481.90" width="9.20" height="9.60" fill="#020a24"/>
<rect x="963.90" y="481.90" width="7.20" height="9.60" fill="#0d5ccb"/>
<rect x="972.87" y="282.73" width="9.20" height="199.17" fill="#240700"/>
<rect x="973.87" y="282.73" width="7.20" height="199.17" fill="#bf4a25"/>
<rect x="972.87" y="481.90" width="9.20" height="16.68" fill="#020a24"/>
<rect x="973.87" y="481.90" width="7.20" height="16.68" fill="#0d5ccb"/>
<rect x="982.85" y="285.51" width="9.20" height="196.39" fill="#240700"/>
<rect x="983.85" y="285.51" width="7.20" height="196.39" fill="#bf4a25"/>
<rect x="982.85" y="481.90" width="9.20" height="24.01" fill="#020a24"/>
<rect x="983.85" y="481.90" width="7.20" height="24.01" fill="#0d5ccb"/>
<rect x="992.82" y="290.82" width="9.20" height="191.08" fill="#240700"/>
<rect x="993.82" y="290.82" width="7.20" height="191.08" fill="#bf4a25"/>
<rect x="992.82" y="481.90" width="9.20" height="26.29" fill="#020a24"/>
<rect x="993.82" y="481.90" width="7.20" height="26.29" fill="#0d5ccb"/>
<rect x="1002.79" y="296.38" width="9.20" height="185.52" fill="#240700"/>
<rect x="1003.79" y="296.38" width="7.20" height="185.52" fill="#bf4a25"/>
<rect x="1002.79" y="481.90" width="9.20" height="26.29" fill="#020a24"/>
<rect x="1003.79" y="481.90" width="7.20" height="26.29" fill="#0d5ccb"/>
<rect x="1012.77" y="297.14" width="9.20" height="184.76" fill="#240700"/>
<rect x="1013.77" y="297.14" width="7.20" height="184.76" fill="#bf4a25"/>
<rect x="1012.77" y="481.90" width="9.20" height="24.01" fill="#020a24"/>
<rect x="1013.77" y="481.90" width="7.20" height="24.01" fill="#0d5ccb"/>
<rect x="1022.74" y="301.44" width="9.20" height="180.46" fill="#240700"/>
<rect x="1023.74" y="301.44" width="7.20" height="180.46" fill="#bf4a25"/>
<rect x="1022.74" y="481.90" width="9.20" height="15.17" fill="#020a24"/>
<rect x="1023.74" y="481.90" width="7.20" height="15.17" fill="#0d5ccb"/>
<rect x="1032.71" y="300.93" width="9.20" height="180.97" fill="#240700"/>
<rect x="1033.71" y="300.93" width="7.20" height="180.97" fill="#bf4a25"/>
<rect x="1032.71" y="481.90" width="9.20" height="14.66" fill="#020a24"/>
<rect x="1033.71" y="481.90" width="7.20" height="14.66" fill="#0d5ccb"/>
<rect x="1042.69" y="307.00" width="9.20" height="174.90" fill="#240700"/>
<rect x="1043.69" y="307.00" width="7.20" height="174.90" fill="#bf4a25"/>
<rect x="1042.69" y="481.90" width="9.20" height="8.59" fill="#020a24"/>
<rect x="1043.69" y="481.90" width="7.20" height="8.59" fill="#0d5ccb"/>
<rect x="1052.66" y="312.56" width="9.20" height="169.34" fill="#240700"/>
<rect x="1053.66" y="312.56" width="7.20" height="169.34" fill="#bf4a25"/>
<rect x="1052.66" y="481.90" width="9.20" height="6.07" fill="#020a24"/>
<rect x="1053.66" y="481.90" width="7.20" height="6.07" fill="#0d5ccb"/>
<rect x="1062.63" y="316.10" width="9.20" height="165.80" fill="#240700"/>
<rect x="1063.63" y="316.10" width="7.20" height="165.80" fill="#bf4a25"/>
<rect x="1062.63" y="481.90" width="9.20" height="2.02" fill="#020a24"/>
<rect x="1063.63" y="481.90" width="7.20" height="2.02" fill="#0d5ccb"/>
<rect x="1072.60" y="325.19" width="9.20" height="156.70" fill="#240700"/>
<rect x="1073.60" y="325.19" width="7.20" height="156.70" fill="#bf4a25"/>
<rect x="1072.60" y="481.90" width="9.20" height="0.51" fill="#020a24"/>
<rect x="1073.60" y="481.90" width="7.20" height="0.51" fill="#0d5ccb"/>
<rect x="1082.58" y="340.36" width="9.20" height="141.54" fill="#240700"/>
<rect x="1083.58" y="340.36" width="7.20" height="141.54" fill="#bf4a25"/>
<rect x="1092.55" y="478.87" width="9.20" height="3.03" fill="#020a24"/>
<rect x="1093.55" y="478.87" width="7.20" height="3.03" fill="#0d5ccb"/>
<rect x="1092.55" y="342.38" width="9.20" height="136.48" fill="#240700"/>
<rect x="1093.55" y="342.38" width="7.20" height="136.48" fill="#bf4a25"/>
<rect x="1102.52" y="476.04" width="9.20" height="5.86" fill="#020a24"/>
<rect x="1103.52" y="476.04" width="7.20" height="5.86" fill="#0d5ccb"/>
<rect x="1102.52" y="341.02" width="9.20" height="135.02" fill="#240700"/>
<rect x="1103.52" y="341.02" width="7.20" height="135.02" fill="#bf4a25"/>
<rect x="1112.50" y="470.83" width="9.20" height="11.07" fill="#020a24"/>
<rect x="1113.50" y="470.83" width="7.20" height="11.07" fill="#0d5ccb"/>
<rect x="1112.50" y="333.59" width="9.20" height="137.24" fill="#240700"/>
<rect x="1113.50" y="333.59" width="7.20" height="137.24" fill="#bf4a25"/>
<rect x="1122.47" y="466.68" width="9.20" height="15.22" fill="#020a24"/>
<rect x="1123.47" y="466.68" width="7.20" height="15.22" fill="#0d5ccb"/>
<rect x="1122.47" y="327.27" width="9.20" height="139.42" fill="#240700"/>
<rect x="1123.47" y="327.27" width="7.20" height="139.42" fill="#bf4a25"/>
<rect x="1132.44" y="462.39" width="9.20" height="19.51" fill="#020a24"/>
<rect x="1133.44" y="462.39" width="7.20" height="19.51" fill="#0d5ccb"/>
<rect x="1132.44" y="324.69" width="9.20" height="137.70" fill="#240700"/>
<rect x="1133.44" y="324.69" width="7.20" height="137.70" fill="#bf4a25"/>
<rect x="1142.42" y="462.39" width="9.20" height="19.51" fill="#020a24"/>
<rect x="1143.42" y="462.39" width="7.20" height="19.51" fill="#0d5ccb"/>
<rect x="1142.42" y="329.29" width="9.20" height="133.10" fill="#240700"/>
<rect x="1143.42" y="329.29" width="7.20" height="133.10" fill="#bf4a25"/>
<rect x="1162.36" y="464.26" width="9.20" height="17.64" fill="#020a24"/>
<rect x="1163.36" y="464.26" width="7.20" height="17.64" fill="#0d5ccb"/>
<rect x="1162.36" y="348.80" width="9.20" height="115.46" fill="#240700"/>
<rect x="1163.36" y="348.80" width="7.20" height="115.46" fill="#bf4a25"/>
<rect x="1172.33" y="462.99" width="9.20" height="18.91" fill="#020a24"/>
<rect x="1173.33" y="462.99" width="7.20" height="18.91" fill="#0d5ccb"/>
<rect x="1172.33" y="348.50" width="9.20" height="114.50" fill="#240700"/>
<rect x="1173.33" y="348.50" width="7.20" height="114.50" fill="#bf4a25"/>
<rect x="1182.31" y="466.73" width="9.20" height="15.17" fill="#020a24"/>
<rect x="1183.31" y="466.73" width="7.20" height="15.17" fill="#0d5ccb"/>
<rect x="1182.31" y="355.32" width="9.20" height="111.41" fill="#240700"/>
<rect x="1183.31" y="355.32" width="7.20" height="111.41" fill="#bf4a25"/>
<line x1="5.00" y1="482.10" x2="1225.10" y2="482.10" stroke="#8c8c8c" stroke-width="1.1"/>
<clipPath id="cc"><rect x="7" y="110" width="1218" height="434"/></clipPath>
<path clip-path="url(#cc)" d="M0.1,337.8 L10.1,339.9 L20.1,343.4 L30.0,334.3 L40.0,330.2 L50.0,339.3 L60.0,328.2 L69.9,340.9 L79.9,357.5 L89.9,362.6 L99.8,356.5 L109.8,356.0 L119.8,353.5 L129.8,375.7 L139.7,392.4 L149.7,401.5 L159.7,409.6 L169.7,411.6 L179.6,408.6 L189.6,397.0 L199.6,387.9 L209.6,396.0 L219.5,393.9 L229.5,392.4 L239.5,390.4 L249.4,363.1 L259.4,364.6 L269.4,354.5 L279.4,351.0 L289.3,342.9 L299.3,356.5 L309.3,353.0 L319.3,364.6 L329.2,364.6 L339.2,361.6 L349.2,370.2 L359.1,377.8 L369.1,380.3 L379.1,375.2 L389.1,384.8 L399.0,383.3 L409.0,379.3 L419.0,366.1 L429.0,367.7 L438.9,356.5 L448.9,347.9 L458.9,354.5 L468.9,346.4 L478.8,338.8 L488.8,369.7 L498.8,422.0 L508.7,451.6 L518.7,442.2 L528.7,403.5 L538.7,407.1 L548.6,423.8 L558.6,440.4 L568.6,430.8 L578.6,434.9 L588.5,455.1 L598.5,461.2 L608.5,427.3 L618.4,326.2 L628.4,285.8 L638.4,277.7 L648.4,300.7 L658.3,326.2 L668.3,325.7 L678.3,304.5 L688.3,309.0 L698.2,295.4 L708.2,269.6 L718.2,250.4 L728.1,234.7 L738.1,222.6 L748.1,215.0 L758.1,205.9 L768.0,223.6 L778.0,193.3 L788.0,152.8 L798.0,158.4 L807.9,168.5 L817.9,165.5 L827.9,168.5 L837.9,173.0 L847.8,193.8 L857.8,225.1 L867.8,248.9 L877.7,279.2 L887.7,274.1 L897.7,280.2 L907.7,287.3 L917.6,294.9 L927.6,286.8 L937.6,280.7 L947.6,265.8 L957.5,264.5 L967.5,240.8 L977.5,234.7 L987.4,238.8 L997.4,246.3 L1007.4,255.9 L1017.4,256.4 L1027.3,265.8 L1037.3,261.0 L1047.3,267.6 L1057.3,277.2 L1067.2,278.7 L1077.2,290.8 L1087.2,334.8 L1097.2,342.1 L1107.1,337.2 L1117.1,329.4 L1127.1,319.5 L1137.0,319.6 L1147.0,321.4 L1167.0,345.3 L1176.9,343.3 L1186.9,346.9" fill="none" stroke="#c680f2" stroke-width="2.6" stroke-linejoin="round" stroke-linecap="round"/>
<path clip-path="url(#cc)" d="M0.1,368.2 L10.1,371.2 L20.1,373.7 L30.0,370.2 L40.0,368.7 L50.0,371.2 L60.0,365.6 L69.9,369.2 L79.9,372.2 L89.9,374.7 L99.8,371.2 L109.8,367.2 L119.8,369.2 L129.8,380.3 L139.7,386.9 L149.7,393.4 L159.7,396.5 L169.7,397.0 L179.6,397.0 L189.6,396.0 L199.6,393.4 L209.6,396.0 L219.5,393.9 L229.5,391.4 L239.5,389.4 L249.4,375.7 L259.4,373.7 L269.4,370.2 L279.4,368.2 L289.3,364.1 L299.3,371.2 L309.3,372.2 L319.3,373.7 L329.2,369.2 L339.2,371.7 L349.2,373.7 L359.1,377.3 L369.1,379.8 L379.1,377.8 L389.1,380.3 L399.0,375.7 L409.0,371.2 L419.0,361.1 L429.0,363.1 L438.9,364.6 L448.9,365.1 L458.9,367.7 L468.9,367.7 L478.8,363.1 L488.8,376.8 L498.8,407.1 L508.7,420.2 L518.7,421.7 L528.7,403.5 L538.7,394.4 L548.6,395.5 L558.6,401.0 L568.6,399.5 L578.6,401.0 L588.5,411.1 L598.5,416.7 L608.5,400.0 L618.4,331.8 L628.4,289.8 L638.4,257.0 L648.4,269.6 L658.3,279.7 L668.3,278.7 L678.3,247.9 L688.3,230.2 L698.2,204.4 L708.2,178.6 L718.2,158.4 L728.1,155.3 L738.1,171.0 L748.1,178.6 L758.1,183.1 L768.0,183.7 L778.0,161.9 L788.0,147.3 L798.0,164.4 L807.9,182.1 L817.9,194.8 L827.9,200.3 L837.9,203.4 L847.8,199.8 L857.8,205.6 L867.8,215.0 L877.7,238.8 L887.7,246.8 L897.7,262.5 L907.7,271.9 L917.6,278.2 L927.6,280.7 L937.6,284.2 L947.6,286.8 L957.5,292.1 L967.5,290.3 L977.5,299.4 L987.4,309.5 L997.4,317.1 L1007.4,322.7 L1017.4,321.2 L1027.3,316.6 L1037.3,315.6 L1047.3,315.6 L1057.3,318.6 L1067.2,318.1 L1077.2,325.7 L1087.2,340.4 L1097.2,342.4 L1107.1,341.0 L1117.1,333.6 L1127.1,327.3 L1137.0,324.7 L1147.0,329.3 L1167.0,348.8 L1176.9,348.5 L1186.9,355.3" fill="none" stroke="#fffaf4" stroke-width="4.2" stroke-linejoin="round" stroke-linecap="round"/>
<line x1="5.00" y1="543.90" x2="1225.80" y2="543.90" stroke="#c8c8c8" stroke-width="1.6"/>
<line x1="1225.10" y1="110.00" x2="1225.10" y2="543.90" stroke="#c8c8c8" stroke-width="1.6"/>
<path d="M1225.6,529.1 L1234.1,532.3 L1225.6,535.5Z" fill="#c8c8c8"/>
<text x="1239" y="538.5899999999999" font-size="18.2" fill="#cfcfcf" stroke="#cfcfcf" stroke-width="0.35" textLength="54.3" lengthAdjust="spacingAndGlyphs">-1.000</text>
<line x1="1225.10" y1="507.05" x2="1231.10" y2="507.05" stroke="#c8c8c8" stroke-width="1.3"/>
<path d="M1225.6,478.6 L1234.1,481.8 L1225.6,485.0Z" fill="#c8c8c8"/>
<text x="1238.5" y="488.1" font-size="18.2" fill="#cfcfcf" stroke="#cfcfcf" stroke-width="0.35" textLength="46" lengthAdjust="spacingAndGlyphs">0.000</text>
<line x1="1225.10" y1="456.56" x2="1231.10" y2="456.56" stroke="#c8c8c8" stroke-width="1.3"/>
<path d="M1225.6,428.1 L1234.1,431.3 L1225.6,434.5Z" fill="#c8c8c8"/>
<text x="1238.5" y="437.61" font-size="18.2" fill="#cfcfcf" stroke="#cfcfcf" stroke-width="0.35" textLength="46" lengthAdjust="spacingAndGlyphs">1.000</text>
<line x1="1225.10" y1="406.06" x2="1231.10" y2="406.06" stroke="#c8c8c8" stroke-width="1.3"/>
<path d="M1225.6,377.6 L1234.1,380.8 L1225.6,384.0Z" fill="#c8c8c8"/>
<text x="1238.5" y="387.12" font-size="18.2" fill="#cfcfcf" stroke="#cfcfcf" stroke-width="0.35" textLength="46" lengthAdjust="spacingAndGlyphs">2.000</text>
<line x1="1225.10" y1="355.57" x2="1231.10" y2="355.57" stroke="#c8c8c8" stroke-width="1.3"/>
<path d="M1225.6,327.1 L1234.1,330.3 L1225.6,333.5Z" fill="#c8c8c8"/>
<text x="1238.5" y="336.63000000000005" font-size="18.2" fill="#cfcfcf" stroke="#cfcfcf" stroke-width="0.35" textLength="46" lengthAdjust="spacingAndGlyphs">3.000</text>
<line x1="1225.10" y1="305.09" x2="1231.10" y2="305.09" stroke="#c8c8c8" stroke-width="1.3"/>
<path d="M1225.6,276.6 L1234.1,279.8 L1225.6,283.0Z" fill="#c8c8c8"/>
<text x="1238.5" y="286.14000000000004" font-size="18.2" fill="#cfcfcf" stroke="#cfcfcf" stroke-width="0.35" textLength="46" lengthAdjust="spacingAndGlyphs">4.000</text>
<line x1="1225.10" y1="254.59" x2="1231.10" y2="254.59" stroke="#c8c8c8" stroke-width="1.3"/>
<path d="M1225.6,226.2 L1234.1,229.3 L1225.6,232.5Z" fill="#c8c8c8"/>
<text x="1238.5" y="235.65" font-size="18.2" fill="#cfcfcf" stroke="#cfcfcf" stroke-width="0.35" textLength="46" lengthAdjust="spacingAndGlyphs">5.000</text>
<line x1="1225.10" y1="204.11" x2="1231.10" y2="204.11" stroke="#c8c8c8" stroke-width="1.3"/>
<path d="M1225.6,175.7 L1234.1,178.9 L1225.6,182.1Z" fill="#c8c8c8"/>
<text x="1238.5" y="185.16000000000003" font-size="18.2" fill="#cfcfcf" stroke="#cfcfcf" stroke-width="0.35" textLength="46" lengthAdjust="spacingAndGlyphs">6.000</text>
<line x1="1225.10" y1="153.62" x2="1231.10" y2="153.62" stroke="#c8c8c8" stroke-width="1.3"/>
<path d="M1225.6,125.2 L1234.1,128.4 L1225.6,131.6Z" fill="#c8c8c8"/>
<text x="1238.5" y="134.67000000000002" font-size="18.2" fill="#cfcfcf" stroke="#cfcfcf" stroke-width="0.35" textLength="46" lengthAdjust="spacingAndGlyphs">7.000</text>
<line x1="10.19" y1="543.90" x2="10.19" y2="549.40" stroke="#c8c8c8" stroke-width="1.4"/>
<line x1="40.13" y1="543.90" x2="40.13" y2="549.40" stroke="#c8c8c8" stroke-width="1.4"/>
<line x1="70.06" y1="543.90" x2="70.06" y2="549.40" stroke="#c8c8c8" stroke-width="1.4"/>
<line x1="100.00" y1="543.90" x2="100.00" y2="549.40" stroke="#c8c8c8" stroke-width="1.4"/>
<line x1="129.94" y1="543.90" x2="129.94" y2="549.40" stroke="#c8c8c8" stroke-width="1.4"/>
<line x1="159.87" y1="543.90" x2="159.87" y2="549.40" stroke="#c8c8c8" stroke-width="1.4"/>
<line x1="189.81" y1="543.90" x2="189.81" y2="549.40" stroke="#c8c8c8" stroke-width="1.4"/>
<line x1="219.75" y1="543.90" x2="219.75" y2="549.40" stroke="#c8c8c8" stroke-width="1.4"/>
<line x1="249.69" y1="543.90" x2="249.69" y2="549.40" stroke="#c8c8c8" stroke-width="1.4"/>
<line x1="279.62" y1="543.90" x2="279.62" y2="549.40" stroke="#c8c8c8" stroke-width="1.4"/>
<line x1="309.56" y1="543.90" x2="309.56" y2="549.40" stroke="#c8c8c8" stroke-width="1.4"/>
<line x1="339.50" y1="543.90" x2="339.50" y2="549.40" stroke="#c8c8c8" stroke-width="1.4"/>
<line x1="369.43" y1="543.90" x2="369.43" y2="549.40" stroke="#c8c8c8" stroke-width="1.4"/>
<line x1="399.37" y1="543.90" x2="399.37" y2="549.40" stroke="#c8c8c8" stroke-width="1.4"/>
<line x1="429.31" y1="543.90" x2="429.31" y2="549.40" stroke="#c8c8c8" stroke-width="1.4"/>
<line x1="459.24" y1="543.90" x2="459.24" y2="549.40" stroke="#c8c8c8" stroke-width="1.4"/>
<line x1="489.18" y1="543.90" x2="489.18" y2="549.40" stroke="#c8c8c8" stroke-width="1.4"/>
<line x1="519.12" y1="543.90" x2="519.12" y2="549.40" stroke="#c8c8c8" stroke-width="1.4"/>
<line x1="549.05" y1="543.90" x2="549.05" y2="549.40" stroke="#c8c8c8" stroke-width="1.4"/>
<line x1="578.99" y1="543.90" x2="578.99" y2="549.40" stroke="#c8c8c8" stroke-width="1.4"/>
<line x1="608.93" y1="543.90" x2="608.93" y2="549.40" stroke="#c8c8c8" stroke-width="1.4"/>
<line x1="638.87" y1="543.90" x2="638.87" y2="549.40" stroke="#c8c8c8" stroke-width="1.4"/>
<line x1="668.80" y1="543.90" x2="668.80" y2="549.40" stroke="#c8c8c8" stroke-width="1.4"/>
<line x1="698.74" y1="543.90" x2="698.74" y2="549.40" stroke="#c8c8c8" stroke-width="1.4"/>
<line x1="728.68" y1="543.90" x2="728.68" y2="549.40" stroke="#c8c8c8" stroke-width="1.4"/>
<line x1="758.61" y1="543.90" x2="758.61" y2="549.40" stroke="#c8c8c8" stroke-width="1.4"/>
<line x1="788.55" y1="543.90" x2="788.55" y2="549.40" stroke="#c8c8c8" stroke-width="1.4"/>
<line x1="818.49" y1="543.90" x2="818.49" y2="549.40" stroke="#c8c8c8" stroke-width="1.4"/>
<line x1="848.42" y1="543.90" x2="848.42" y2="549.40" stroke="#c8c8c8" stroke-width="1.4"/>
<line x1="878.36" y1="543.90" x2="878.36" y2="549.40" stroke="#c8c8c8" stroke-width="1.4"/>
<line x1="908.30" y1="543.90" x2="908.30" y2="549.40" stroke="#c8c8c8" stroke-width="1.4"/>
<line x1="938.24" y1="543.90" x2="938.24" y2="549.40" stroke="#c8c8c8" stroke-width="1.4"/>
<line x1="968.17" y1="543.90" x2="968.17" y2="549.40" stroke="#c8c8c8" stroke-width="1.4"/>
<line x1="998.11" y1="543.90" x2="998.11" y2="549.40" stroke="#c8c8c8" stroke-width="1.4"/>
<line x1="1028.05" y1="543.90" x2="1028.05" y2="549.40" stroke="#c8c8c8" stroke-width="1.4"/>
<line x1="1057.98" y1="543.90" x2="1057.98" y2="549.40" stroke="#c8c8c8" stroke-width="1.4"/>
<line x1="1087.92" y1="543.90" x2="1087.92" y2="549.40" stroke="#c8c8c8" stroke-width="1.4"/>
<line x1="1117.86" y1="543.90" x2="1117.86" y2="549.40" stroke="#c8c8c8" stroke-width="1.4"/>
<line x1="1147.79" y1="543.90" x2="1147.79" y2="549.40" stroke="#c8c8c8" stroke-width="1.4"/>
<line x1="1177.73" y1="543.90" x2="1177.73" y2="549.40" stroke="#c8c8c8" stroke-width="1.4"/>
<line x1="100.00" y1="555.50" x2="100.00" y2="569.80" stroke="#c8c8c8" stroke-width="1.6"/>
<line x1="219.75" y1="555.50" x2="219.75" y2="569.80" stroke="#c8c8c8" stroke-width="1.6"/>
<line x1="339.50" y1="555.50" x2="339.50" y2="569.80" stroke="#c8c8c8" stroke-width="1.6"/>
<line x1="459.25" y1="555.50" x2="459.25" y2="569.80" stroke="#c8c8c8" stroke-width="1.6"/>
<line x1="579.00" y1="555.50" x2="579.00" y2="569.80" stroke="#c8c8c8" stroke-width="1.6"/>
<line x1="698.75" y1="555.50" x2="698.75" y2="569.80" stroke="#c8c8c8" stroke-width="1.6"/>
<line x1="818.50" y1="555.50" x2="818.50" y2="569.80" stroke="#c8c8c8" stroke-width="1.6"/>
<line x1="938.25" y1="555.50" x2="938.25" y2="569.80" stroke="#c8c8c8" stroke-width="1.6"/>
<line x1="1058.00" y1="555.50" x2="1058.00" y2="569.80" stroke="#c8c8c8" stroke-width="1.6"/>
<line x1="1177.75" y1="555.50" x2="1177.75" y2="569.80" stroke="#c8c8c8" stroke-width="1.6"/>
<text x="52.3" y="569.3" font-size="19.3" fill="#cfcfcf" stroke="#cfcfcf" stroke-width="0.35" text-anchor="middle" textLength="40.6" lengthAdjust="spacingAndGlyphs">2016</text>
<text x="159.6" y="569.3" font-size="19.3" fill="#cfcfcf" stroke="#cfcfcf" stroke-width="0.35" text-anchor="middle" textLength="40.6" lengthAdjust="spacingAndGlyphs">2017</text>
<text x="279.35" y="569.3" font-size="19.3" fill="#cfcfcf" stroke="#cfcfcf" stroke-width="0.35" text-anchor="middle" textLength="40.6" lengthAdjust="spacingAndGlyphs">2018</text>
<text x="399.1" y="569.3" font-size="19.3" fill="#cfcfcf" stroke="#cfcfcf" stroke-width="0.35" text-anchor="middle" textLength="40.6" lengthAdjust="spacingAndGlyphs">2019</text>
<text x="518.85" y="569.3" font-size="19.3" fill="#cfcfcf" stroke="#cfcfcf" stroke-width="0.35" text-anchor="middle" textLength="40.6" lengthAdjust="spacingAndGlyphs">2020</text>
<text x="638.6" y="569.3" font-size="19.3" fill="#cfcfcf" stroke="#cfcfcf" stroke-width="0.35" text-anchor="middle" textLength="40.6" lengthAdjust="spacingAndGlyphs">2021</text>
<text x="758.35" y="569.3" font-size="19.3" fill="#cfcfcf" stroke="#cfcfcf" stroke-width="0.35" text-anchor="middle" textLength="40.6" lengthAdjust="spacingAndGlyphs">2022</text>
<text x="878.1" y="569.3" font-size="19.3" fill="#cfcfcf" stroke="#cfcfcf" stroke-width="0.35" text-anchor="middle" textLength="40.6" lengthAdjust="spacingAndGlyphs">2023</text>
<text x="997.85" y="569.3" font-size="19.3" fill="#cfcfcf" stroke="#cfcfcf" stroke-width="0.35" text-anchor="middle" textLength="40.6" lengthAdjust="spacingAndGlyphs">2024</text>
<text x="1117.6" y="569.3" font-size="19.3" fill="#cfcfcf" stroke="#cfcfcf" stroke-width="0.35" text-anchor="middle" textLength="40.6" lengthAdjust="spacingAndGlyphs">2025</text>
<text x="1180.6" y="569.3" font-size="19.3" fill="#cfcfcf" stroke="#cfcfcf" stroke-width="0.35" textLength="40.8" lengthAdjust="spacingAndGlyphs">2026</text>
<text transform="translate(1322.5,186.3) rotate(90)" font-size="22.6" font-family="DejaVu Sans, Liberation Sans, sans-serif" fill="#e4e4e4" textLength="281.5" lengthAdjust="spacingAndGlyphs">Percent/Percentage Point</text>
<text x="186" y="191.7" font-size="30" fill="#ffffff" stroke="#ffffff" stroke-width="0.35" textLength="356" lengthAdjust="spacingAndGlyphs" font-weight="bold" font-family="Liberation Sans, sans-serif">Núcleo do CPI, 12 meses</text>
<path d="M1227,356.5 L1236,343.4 L1313.2,343.4 L1313.2,369.6 L1236,369.6Z" fill="#ffffff"/>
<text x="1239.3" y="362.1" font-size="18.2" fill="#222" stroke="#222" stroke-width="0.35" textLength="47" lengthAdjust="spacingAndGlyphs">2.504</text>
<path d="M1227,345.3 L1236,332.2 L1311.3,332.2 L1311.3,358.4 L1236,358.4Z" fill="#c87cfa"/>
<text x="1239.3" y="350.90000000000003" font-size="18.2" fill="#3a2a4a" stroke="#3a2a4a" stroke-width="0.35" textLength="47" lengthAdjust="spacingAndGlyphs">2.671</text>
<path d="M1227,467.6 L1236,454.5 L1311.3,454.5 L1311.3,480.7 L1236,480.7Z" fill="#1060d0"/>
<text x="1239.3" y="473.20000000000005" font-size="18.2" fill="#ffffff" stroke="#ffffff" stroke-width="0.35" textLength="47" lengthAdjust="spacingAndGlyphs">0.270</text>
</g>
<g id="data-table" role="table" aria-label="Data Table">
<rect x="4.50" y="576.50" width="1351.00" height="24.50" fill="#222222"/>
<text x="8" y="594.5" font-size="18.5" fill="#e4e4e4" stroke="#e4e4e4" stroke-width="0.35" textLength="95" lengthAdjust="spacingAndGlyphs">Data Table</text>
<rect x="634.00" y="578.00" width="154.80" height="20.00" fill="#343434"/>
<rect x="643.00" y="581.50" width="13.00" height="13.00" fill="#2f80ed" stroke="#6aa8ff" stroke-width="0.8"/>
<path d="M645.6,588.0 L648.5,591.1 L653.7,584.9" fill="none" stroke="#0a0a0a" stroke-width="1.69"/>
<text x="664.5" y="594.5" font-size="18.3" fill="#f2f2f2" textLength="118.2" lengthAdjust="spacingAndGlyphs" stroke="#f2f2f2" stroke-width="0.75">Show Weights</text>
<rect x="791.60" y="578.00" width="168.40" height="20.00" fill="#343434"/>
<rect x="799.50" y="581.50" width="13.00" height="13.00" fill="#2f80ed" stroke="#6aa8ff" stroke-width="0.8"/>
<path d="M802.1,588.0 L805.0,591.1 L810.2,584.9" fill="none" stroke="#0a0a0a" stroke-width="1.69"/>
<text x="821.7" y="594.5" font-size="18.3" fill="#f2f2f2" textLength="132.1" lengthAdjust="spacingAndGlyphs" stroke="#f2f2f2" stroke-width="0.75">Show Heat Map</text>
<rect x="963.40" y="578.00" width="151.20" height="20.00" fill="#343434"/>
<rect x="970.00" y="581.50" width="13.00" height="13.00" fill="#2f80ed" stroke="#6aa8ff" stroke-width="0.8"/>
<path d="M972.6,588.0 L975.5,591.1 L980.7,584.9" fill="none" stroke="#0a0a0a" stroke-width="1.69"/>
<text x="993" y="594.5" font-size="18.3" fill="#f2f2f2" textLength="116.3" lengthAdjust="spacingAndGlyphs" stroke="#f2f2f2" stroke-width="0.75">Show Tickers</text>
<rect x="1117.70" y="578.00" width="117.00" height="20.00" fill="#343434"/>
<path d="M1124.5,587 l6.5,-6 l6.5,6" fill="none" stroke="#e8e8e8" stroke-width="2"/>
<path d="M1124.5,593 l6.5,-6 l6.5,6" fill="none" stroke="#e8e8e8" stroke-width="2"/>
<text x="1145.8" y="594.5" font-size="18.3" fill="#f2f2f2" textLength="82.6" lengthAdjust="spacingAndGlyphs" stroke="#f2f2f2" stroke-width="0.75">Show More</text>
<rect x="1237.80" y="578.00" width="116.90" height="20.00" fill="#343434"/>
<path d="M1244.5,582.5 l6.5,6 l6.5,-6" fill="none" stroke="#e8e8e8" stroke-width="2"/>
<path d="M1244.5,588.5 l6.5,6 l6.5,-6" fill="none" stroke="#e8e8e8" stroke-width="2"/>
<text x="1265.8" y="594.5" font-size="18.3" fill="#f2f2f2" textLength="82.1" lengthAdjust="spacingAndGlyphs" stroke="#f2f2f2" stroke-width="0.75">Hide Table</text>
<rect x="6.00" y="601.00" width="1349.00" height="24.50" fill="#2b2b2b"/>
<rect x="946.50" y="601.00" width="81.50" height="24.50" fill="#1a1a1a"/>
<clipPath id="c0"><rect x="568.6" y="600" width="60" height="30"/></clipPath>
<text x="616.7" y="617.2" font-size="18" fill="#d4d8dc" stroke="#d4d8dc" stroke-width="0.35" text-anchor="end" textLength="65.5" lengthAdjust="spacingAndGlyphs" clip-path="url(#c0)">May-25</text>
<text x="698.7" y="617.2" font-size="18" fill="#d4d8dc" stroke="#d4d8dc" stroke-width="0.35" text-anchor="end" textLength="57" lengthAdjust="spacingAndGlyphs">Jun-25</text>
<text x="780.1" y="617.2" font-size="18" fill="#d4d8dc" stroke="#d4d8dc" stroke-width="0.35" text-anchor="end" textLength="53.8" lengthAdjust="spacingAndGlyphs">Jul-25</text>
<text x="861.7" y="617.2" font-size="18" fill="#d4d8dc" stroke="#d4d8dc" stroke-width="0.35" text-anchor="end" textLength="57.8" lengthAdjust="spacingAndGlyphs">Aug-25</text>
<text x="943.2" y="617.2" font-size="18" fill="#d4d8dc" stroke="#d4d8dc" stroke-width="0.35" text-anchor="end" textLength="58.4" lengthAdjust="spacingAndGlyphs">Sep-25</text>
<text x="1024.7" y="617.2" font-size="18" fill="#d4d8dc" stroke="#d4d8dc" stroke-width="0.35" text-anchor="end" textLength="54.6" lengthAdjust="spacingAndGlyphs">Oct-25</text>
<text x="1107.2" y="617.2" font-size="18" fill="#d4d8dc" stroke="#d4d8dc" stroke-width="0.35" text-anchor="end" textLength="59.8" lengthAdjust="spacingAndGlyphs">Nov-25</text>
<text x="1188.7" y="617.2" font-size="18" fill="#d4d8dc" stroke="#d4d8dc" stroke-width="0.35" text-anchor="end" textLength="58.3" lengthAdjust="spacingAndGlyphs">Dec-25</text>
<text x="1270.5" y="617.2" font-size="18" fill="#d4d8dc" stroke="#d4d8dc" stroke-width="0.35" text-anchor="end" textLength="56.4" lengthAdjust="spacingAndGlyphs">Jan-26</text>
<text x="1283" y="617.2" font-size="18.5" fill="#f0923a" stroke="#f0923a" stroke-width="0.35" textLength="53.6" lengthAdjust="spacingAndGlyphs" font-weight="bold">Weight</text>
<path d="M1350,603.5 v13 M1346.3,612.5 l3.7,5 l3.7,-5" fill="none" stroke="#b8d4f0" stroke-width="2"/>
<text x="60.8" y="617.4" font-size="19" fill="#d4d8dc" stroke="#d4d8dc" stroke-width="0.35" textLength="51.6" lengthAdjust="spacingAndGlyphs">Series</text>
<text x="378.5" y="617.4" font-size="19" fill="#d4d8dc" stroke="#d4d8dc" stroke-width="0.35" textLength="51.5" lengthAdjust="spacingAndGlyphs">Ticker</text>
<clipPath id="c1"><rect x="566.4" y="620" width="60" height="114"/></clipPath>
<rect x="566.40" y="625.50" width="53.60" height="25.00" fill="#f3a46e"/>
<text x="618.4" y="644.3" font-size="18.4" fill="#3a2e26" stroke="#3a2e26" stroke-width="0.35" text-anchor="end" textLength="46.8" lengthAdjust="spacingAndGlyphs" clip-path="url(#c1)">2.787</text>
<rect x="620.00" y="625.50" width="82.00" height="25.00" fill="#f29e66"/>
<text x="700.4" y="644.3" font-size="18.4" fill="#3a2e26" stroke="#3a2e26" stroke-width="0.35" text-anchor="end" textLength="46.8" lengthAdjust="spacingAndGlyphs">2.934</text>
<rect x="702.00" y="625.50" width="81.40" height="25.00" fill="#f1985f"/>
<text x="781.8" y="644.3" font-size="18.4" fill="#3a2e26" stroke="#3a2e26" stroke-width="0.35" text-anchor="end" textLength="46.8" lengthAdjust="spacingAndGlyphs">3.059</text>
<rect x="783.40" y="625.50" width="81.60" height="25.00" fill="#f0965c"/>
<text x="863.4" y="644.3" font-size="18.4" fill="#3a2e26" stroke="#3a2e26" stroke-width="0.35" text-anchor="end" textLength="46.8" lengthAdjust="spacingAndGlyphs">3.110</text>
<rect x="865.00" y="625.50" width="81.50" height="25.00" fill="#f19a61"/>
<text x="944.9" y="644.3" font-size="18.4" fill="#3a2e26" stroke="#3a2e26" stroke-width="0.35" text-anchor="end" textLength="46.8" lengthAdjust="spacingAndGlyphs">3.019</text>
<rect x="1028.00" y="625.50" width="82.50" height="25.00" fill="#f5aa77"/>
<text x="1108.9" y="644.3" font-size="18.4" fill="#3a2e26" stroke="#3a2e26" stroke-width="0.35" text-anchor="end" textLength="46.8" lengthAdjust="spacingAndGlyphs">2.633</text>
<rect x="1110.50" y="625.50" width="81.50" height="25.00" fill="#f5aa76"/>
<text x="1190.4" y="644.3" font-size="18.4" fill="#3a2e26" stroke="#3a2e26" stroke-width="0.35" text-anchor="end" textLength="46.8" lengthAdjust="spacingAndGlyphs">2.639</text>
<rect x="1192.00" y="625.50" width="81.80" height="25.00" fill="#f6b07e"/>
<text x="1272.2" y="644.3" font-size="18.4" fill="#3a2e26" stroke="#3a2e26" stroke-width="0.35" text-anchor="end" textLength="46.8" lengthAdjust="spacingAndGlyphs">2.504</text>
<rect x="566.40" y="650.50" width="53.60" height="25.20" fill="#ee8b4c"/>
<text x="618.4" y="669.4" font-size="18.4" fill="#3a2e26" stroke="#3a2e26" stroke-width="0.35" text-anchor="end" textLength="46.8" lengthAdjust="spacingAndGlyphs" clip-path="url(#c1)">2.701</text>
<rect x="620.00" y="650.50" width="82.00" height="25.20" fill="#ed8a4a"/>
<text x="700.4" y="669.4" font-size="18.4" fill="#3a2e26" stroke="#3a2e26" stroke-width="0.35" text-anchor="end" textLength="46.8" lengthAdjust="spacingAndGlyphs">2.745</text>
<rect x="702.00" y="650.50" width="81.40" height="25.20" fill="#ed8848"/>
<text x="781.8" y="669.4" font-size="18.4" fill="#3a2e26" stroke="#3a2e26" stroke-width="0.35" text-anchor="end" textLength="46.8" lengthAdjust="spacingAndGlyphs">2.794</text>
<rect x="783.40" y="650.50" width="81.60" height="25.20" fill="#ed8949"/>
<text x="863.4" y="669.4" font-size="18.4" fill="#3a2e26" stroke="#3a2e26" stroke-width="0.35" text-anchor="end" textLength="46.8" lengthAdjust="spacingAndGlyphs">2.758</text>
<rect x="865.00" y="650.50" width="81.50" height="25.20" fill="#ee8c4e"/>
<text x="944.9" y="669.4" font-size="18.4" fill="#3a2e26" stroke="#3a2e26" stroke-width="0.35" text-anchor="end" textLength="46.8" lengthAdjust="spacingAndGlyphs">2.664</text>
<rect x="1028.00" y="650.50" width="82.50" height="25.20" fill="#f0985d"/>
<text x="1108.9" y="669.4" font-size="18.4" fill="#3a2e26" stroke="#3a2e26" stroke-width="0.35" text-anchor="end" textLength="46.8" lengthAdjust="spacingAndGlyphs">2.330</text>
<rect x="1110.50" y="650.50" width="81.50" height="25.20" fill="#f19a5f"/>
<text x="1190.4" y="669.4" font-size="18.4" fill="#3a2e26" stroke="#3a2e26" stroke-width="0.35" text-anchor="end" textLength="46.8" lengthAdjust="spacingAndGlyphs">2.296</text>
<rect x="1192.00" y="650.50" width="81.80" height="25.20" fill="#f19c62"/>
<text x="1272.2" y="669.4" font-size="18.4" fill="#3a2e26" stroke="#3a2e26" stroke-width="0.35" text-anchor="end" textLength="46.8" lengthAdjust="spacingAndGlyphs">2.233</text>
<rect x="566.40" y="675.70" width="53.60" height="24.50" fill="#fdf7f3"/>
<text x="618.4" y="694.2" font-size="18.4" fill="#3a2e26" stroke="#3a2e26" stroke-width="0.35" text-anchor="end" textLength="46.8" lengthAdjust="spacingAndGlyphs" clip-path="url(#c1)">0.086</text>
<rect x="620.00" y="675.70" width="82.00" height="24.50" fill="#fbf0e8"/>
<text x="700.4" y="694.2" font-size="18.4" fill="#3a2e26" stroke="#3a2e26" stroke-width="0.35" text-anchor="end" textLength="46.8" lengthAdjust="spacingAndGlyphs">0.189</text>
<rect x="702.00" y="675.70" width="81.40" height="24.50" fill="#f9eadf"/>
<text x="781.8" y="694.2" font-size="18.4" fill="#3a2e26" stroke="#3a2e26" stroke-width="0.35" text-anchor="end" textLength="46.8" lengthAdjust="spacingAndGlyphs">0.271</text>
<rect x="783.40" y="675.70" width="81.60" height="24.50" fill="#f7e4d6"/>
<text x="863.4" y="694.2" font-size="18.4" fill="#3a2e26" stroke="#3a2e26" stroke-width="0.35" text-anchor="end" textLength="46.8" lengthAdjust="spacingAndGlyphs">0.356</text>
<rect x="865.00" y="675.70" width="81.50" height="24.50" fill="#f7e4d6"/>
<text x="944.9" y="694.2" font-size="18.4" fill="#3a2e26" stroke="#3a2e26" stroke-width="0.35" text-anchor="end" textLength="46.8" lengthAdjust="spacingAndGlyphs">0.356</text>
<rect x="1028.00" y="675.70" width="82.50" height="24.50" fill="#f8e7da"/>
<text x="1108.9" y="694.2" font-size="18.4" fill="#3a2e26" stroke="#3a2e26" stroke-width="0.35" text-anchor="end" textLength="46.8" lengthAdjust="spacingAndGlyphs">0.319</text>
<rect x="1110.50" y="675.70" width="81.50" height="24.50" fill="#f7e5d8"/>
<text x="1190.4" y="694.2" font-size="18.4" fill="#3a2e26" stroke="#3a2e26" stroke-width="0.35" text-anchor="end" textLength="46.8" lengthAdjust="spacingAndGlyphs">0.344</text>
<rect x="1192.00" y="675.70" width="81.80" height="24.50" fill="#f9eae0"/>
<text x="1272.2" y="694.2" font-size="18.4" fill="#3a2e26" stroke="#3a2e26" stroke-width="0.35" text-anchor="end" textLength="46.8" lengthAdjust="spacingAndGlyphs">0.270</text>
<rect x="566.40" y="700.20" width="53.60" height="26.60" fill="#f3a16a"/>
<text x="618.4" y="719.6" font-size="18.4" fill="#3a2e26" stroke="#3a2e26" stroke-width="0.35" text-anchor="end" textLength="46.8" lengthAdjust="spacingAndGlyphs" clip-path="url(#c1)">2.862</text>
<rect x="620.00" y="700.20" width="82.00" height="26.60" fill="#f19b62"/>
<text x="700.4" y="719.6" font-size="18.4" fill="#3a2e26" stroke="#3a2e26" stroke-width="0.35" text-anchor="end" textLength="46.8" lengthAdjust="spacingAndGlyphs">3.017</text>
<rect x="702.00" y="700.20" width="81.40" height="26.60" fill="#f09458"/>
<text x="781.8" y="719.6" font-size="18.4" fill="#3a2e26" stroke="#3a2e26" stroke-width="0.35" text-anchor="end" textLength="46.8" lengthAdjust="spacingAndGlyphs">3.212</text>
<rect x="783.40" y="700.20" width="81.60" height="26.60" fill="#f09458"/>
<text x="863.4" y="719.6" font-size="18.4" fill="#3a2e26" stroke="#3a2e26" stroke-width="0.35" text-anchor="end" textLength="46.8" lengthAdjust="spacingAndGlyphs">3.211</text>
<rect x="865.00" y="700.20" width="81.50" height="26.60" fill="#f0955a"/>
<text x="944.9" y="719.6" font-size="18.4" fill="#3a2e26" stroke="#3a2e26" stroke-width="0.35" text-anchor="end" textLength="46.8" lengthAdjust="spacingAndGlyphs">3.176</text>
<rect x="1028.00" y="700.20" width="82.50" height="26.60" fill="#f4a772"/>
<text x="1108.9" y="719.6" font-size="18.4" fill="#3a2e26" stroke="#3a2e26" stroke-width="0.35" text-anchor="end" textLength="46.8" lengthAdjust="spacingAndGlyphs">2.703</text>
<rect x="1110.50" y="700.20" width="81.50" height="26.60" fill="#f3a570"/>
<text x="1190.4" y="719.6" font-size="18.4" fill="#3a2e26" stroke="#3a2e26" stroke-width="0.35" text-anchor="end" textLength="46.8" lengthAdjust="spacingAndGlyphs">2.741</text>
<rect x="1192.00" y="700.20" width="81.80" height="26.60" fill="#f4a874"/>
<text x="1272.2" y="719.6" font-size="18.4" fill="#3a2e26" stroke="#3a2e26" stroke-width="0.35" text-anchor="end" textLength="46.8" lengthAdjust="spacingAndGlyphs">2.671</text>
<line x1="620.00" y1="601.00" x2="620.00" y2="726.80" stroke="#00000055" stroke-width="1.2"/>
<line x1="702.00" y1="601.00" x2="702.00" y2="726.80" stroke="#00000055" stroke-width="1.2"/>
<line x1="783.40" y1="601.00" x2="783.40" y2="726.80" stroke="#00000055" stroke-width="1.2"/>
<line x1="865.00" y1="601.00" x2="865.00" y2="726.80" stroke="#00000055" stroke-width="1.2"/>
<line x1="946.50" y1="601.00" x2="946.50" y2="726.80" stroke="#00000055" stroke-width="1.2"/>
<line x1="1028.00" y1="601.00" x2="1028.00" y2="726.80" stroke="#00000055" stroke-width="1.2"/>
<line x1="1110.50" y1="601.00" x2="1110.50" y2="726.80" stroke="#00000055" stroke-width="1.2"/>
<line x1="1192.00" y1="601.00" x2="1192.00" y2="726.80" stroke="#00000055" stroke-width="1.2"/>
<line x1="1273.80" y1="601.00" x2="1273.80" y2="726.80" stroke="#00000055" stroke-width="1.2"/>
<line x1="6.00" y1="601.00" x2="6.00" y2="734.00" stroke="#4a4a4a" stroke-width="1"/>
<line x1="27.00" y1="601.00" x2="27.00" y2="734.00" stroke="#4a4a4a" stroke-width="1"/>
<line x1="58.50" y1="601.00" x2="58.50" y2="734.00" stroke="#4a4a4a" stroke-width="1"/>
<line x1="377.00" y1="601.00" x2="377.00" y2="734.00" stroke="#333" stroke-width="1"/>
<line x1="566.00" y1="601.00" x2="566.00" y2="734.00" stroke="#333" stroke-width="1"/>
<line x1="1355.00" y1="576.00" x2="1355.00" y2="734.00" stroke="#3a3a3a" stroke-width="1"/>
<line x1="6.00" y1="675.70" x2="566.00" y2="675.70" stroke="#5a5a5a" stroke-width="1"/>
<line x1="6.00" y1="700.20" x2="566.00" y2="700.20" stroke="#303030" stroke-width="1"/>
<line x1="6.00" y1="726.80" x2="1355.00" y2="726.80" stroke="#2c2c2c" stroke-width="1"/>
<circle cx="16.5" cy="612" r="4.5" fill="none" stroke="#f0f0f0" stroke-width="2.6"/>
<path d="M7.9,612 h4 M21.1,612 h4 M16.5,603.4 v4 M16.5,616.6 v4" stroke="#f0f0f0" stroke-width="2.3" fill="none"/>
<circle cx="16.5" cy="662.5" r="4.5" fill="none" stroke="#f0f0f0" stroke-width="2.6"/>
<path d="M7.9,662.5 h4 M21.1,662.5 h4 M16.5,653.9 v4 M16.5,667.1 v4" stroke="#f0f0f0" stroke-width="2.3" fill="none"/>
<circle cx="16.5" cy="687.5" r="4.5" fill="none" stroke="#f0f0f0" stroke-width="2.6"/>
<path d="M7.9,687.5 h4 M21.1,687.5 h4 M16.5,678.9 v4 M16.5,692.1 v4" stroke="#f0f0f0" stroke-width="2.3" fill="none"/>
<circle cx="16.5" cy="713" r="4.5" fill="none" stroke="#f0f0f0" stroke-width="2.6"/>
<path d="M7.9,713 h4 M21.1,713 h4 M16.5,704.4 v4 M16.5,717.6 v4" stroke="#f0f0f0" stroke-width="2.3" fill="none"/>
<rect x="36.50" y="604.40" width="15.00" height="15.00" fill="#2f80ed" stroke="#6aa8ff" stroke-width="0.8"/>
<path d="M39.5,611.9 L42.8,615.5 L48.8,608.3" fill="none" stroke="#0a0a0a" stroke-width="1.95"/>
<rect x="36.50" y="630.00" width="15.00" height="15.00" fill="#2f80ed" stroke="#6aa8ff" stroke-width="0.8"/>
<path d="M39.5,637.5 L42.8,641.1 L48.8,633.9" fill="none" stroke="#0a0a0a" stroke-width="1.95"/>
<rect x="36.50" y="655.70" width="15.00" height="15.00" fill="#2f80ed" stroke="#6aa8ff" stroke-width="0.8"/>
<path d="M39.5,663.2 L42.8,666.8 L48.8,659.6" fill="none" stroke="#0a0a0a" stroke-width="1.95"/>
<rect x="36.50" y="680.80" width="15.00" height="15.00" fill="#2f80ed" stroke="#6aa8ff" stroke-width="0.8"/>
<path d="M39.5,688.3 L42.8,691.9 L48.8,684.7" fill="none" stroke="#0a0a0a" stroke-width="1.95"/>
<rect x="36.50" y="706.00" width="15.00" height="15.00" fill="#2f80ed" stroke="#6aa8ff" stroke-width="0.8"/>
<path d="M39.5,713.5 L42.8,717.1 L48.8,709.9" fill="none" stroke="#0a0a0a" stroke-width="1.95"/>
<path d="M67.7,635 h6.6 l-3.3,5.6z" fill="#f0f0f0"/>
<text x="84.9" y="644.8" font-size="19" fill="#ffffff" stroke="#ffffff" stroke-width="0.35" textLength="77.7" lengthAdjust="spacingAndGlyphs">Core CPI</text>
<path d="M84,657.5 v7.4 l6,-3.7z" fill="#f0f0f0"/>
<text x="101.6" y="670" font-size="19" fill="#f0923a" stroke="#f0923a" stroke-width="0.35" textLength="122.9" lengthAdjust="spacingAndGlyphs">Core Services</text>
<path d="M84,682.5 v7.4 l6,-3.7z" fill="#f0f0f0"/>
<text x="101.6" y="694.3" font-size="19" fill="#f0923a" stroke="#f0923a" stroke-width="0.35" textLength="100.5" lengthAdjust="spacingAndGlyphs">Core Goods</text>
<text x="85.3" y="720" font-size="19" fill="#b4b4b4" stroke="#b4b4b4" stroke-width="0.35" textLength="126.4" lengthAdjust="spacingAndGlyphs">Supercore CPI</text>
<text x="378.5" y="644.8" font-size="19" fill="#ffffff" stroke="#ffffff" stroke-width="0.35" textLength="139" lengthAdjust="spacingAndGlyphs">CPI XYOY Index</text>
<text x="378.5" y="670" font-size="19" fill="#f0923a" stroke="#f0923a" stroke-width="0.35" textLength="145" lengthAdjust="spacingAndGlyphs">ECANG0HH Index</text>
<text x="378.5" y="694.3" font-size="19" fill="#f0923a" stroke="#f0923a" stroke-width="0.35" textLength="143" lengthAdjust="spacingAndGlyphs">ECANYA4K Index</text>
<text x="378.5" y="720" font-size="19" fill="#b4b4b4" stroke="#b4b4b4" stroke-width="0.35" textLength="141.5" lengthAdjust="spacingAndGlyphs">ECANYJQV Index</text>
<text x="1353.3" y="669.2" font-size="19" fill="#e6dc96" stroke="#e6dc96" stroke-width="0.35" text-anchor="end" textLength="57.5" lengthAdjust="spacingAndGlyphs">75.792</text>
<text x="1353.3" y="694" font-size="19" fill="#e6dc96" stroke="#e6dc96" stroke-width="0.35" text-anchor="end" textLength="57.5" lengthAdjust="spacingAndGlyphs">24.207</text>
</g>
</svg>
</body></html>
